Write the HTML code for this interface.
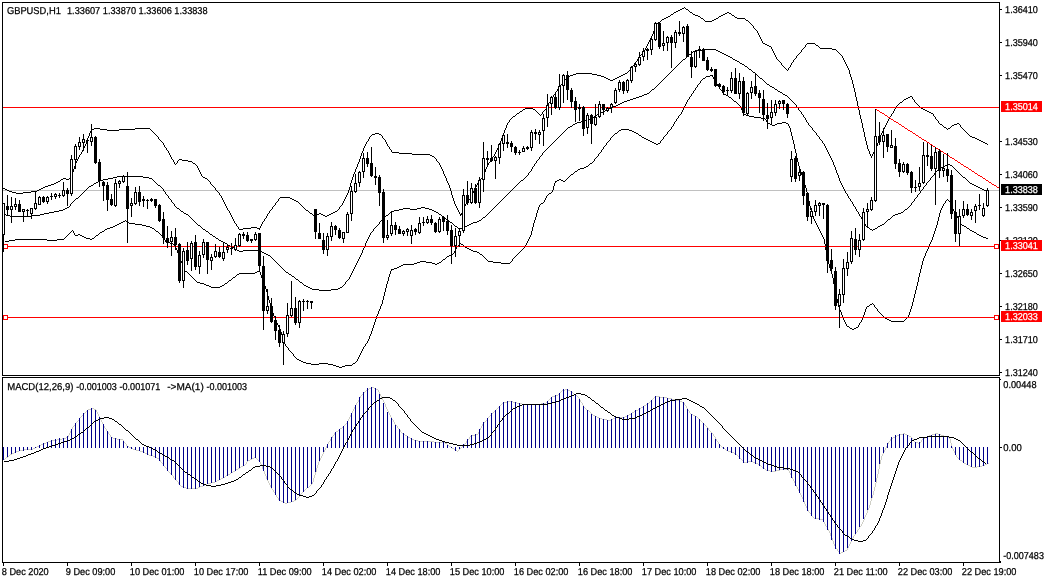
<!DOCTYPE html>
<html><head><meta charset="utf-8"><title>GBPUSD H1</title>
<style>html,body{margin:0;padding:0;background:#fff}body{width:1045px;height:583px;overflow:hidden}</style></head>
<body>
<svg width="1045" height="583" viewBox="0 0 1045 583" style="display:block;font-family:'Liberation Sans',Arial,sans-serif;font-size:10px;text-rendering:geometricPrecision">
<rect width="1045" height="583" fill="#fff"/>
<g shape-rendering="crispEdges">
<rect x="3" y="190" width="996" height="1" fill="#c0c0c0"/>
<path fill="#000" d="M3 188h2v1h-2zM5 189h2v1h-2zM7 190h2v1h-2zM9 191h3v1h-3zM12 192h4v1h-4zM16 193h7v1h-7zM23 192h8v1h-8zM31 191h6v1h-6zM37 190h2v1h-2zM39 189h2v1h-2zM41 188h2v1h-2zM43 187h2v1h-2zM45 186h3v1h-3zM48 185h3v1h-3zM51 184h3v1h-3zM54 183h2v1h-2zM56 182h2v1h-2zM58 181h2v1h-2zM60 180h1v1h-1zM61 179h2v1h-2zM63 178h3v1h-3zM66 179h3v1h-3zM69 178h1v1h-1zM70 177h1v1h-1zM71 175h1v2h-1zM72 172h1v3h-1zM73 169h1v3h-1zM74 166h1v3h-1zM75 163h1v3h-1zM76 161h1v2h-1zM77 159h1v2h-1zM78 157h1v2h-1zM79 155h1v2h-1zM80 154h1v1h-1zM81 152h1v2h-1zM82 150h1v2h-1zM83 148h1v2h-1zM84 146h1v2h-1zM85 144h1v2h-1zM86 141h1v3h-1zM87 138h1v3h-1zM88 136h1v2h-1zM89 133h1v3h-1zM90 131h1v2h-1zM91 129h3v1h-3zM91 130h1v1h-1zM94 128h6v1h-6zM100 129h7v1h-7zM107 130h12v1h-12zM119 129h16v1h-16zM135 128h15v1h-15zM150 129h1v1h-1zM151 130h1v1h-1zM152 131h1v1h-1zM153 132h1v1h-1zM154 133h1v1h-1zM155 134h1v1h-1zM156 135h1v1h-1zM157 136h1v1h-1zM158 137h1v2h-1zM159 139h1v1h-1zM160 140h1v1h-1zM161 141h1v1h-1zM162 142h1v1h-1zM163 143h1v2h-1zM164 145h1v2h-1zM165 147h1v1h-1zM166 148h1v2h-1zM167 150h1v1h-1zM168 151h1v2h-1zM169 153h1v2h-1zM170 155h1v2h-1zM171 157h1v2h-1zM172 159h1v1h-1zM173 160h1v2h-1zM174 162h1v2h-1zM175 164h1v1h-1zM176 163h1v1h-1zM177 161h1v2h-1zM178 160h1v1h-1zM179 159h3v1h-3zM182 160h6v1h-6zM188 161h4v1h-4zM192 162h1v1h-1zM193 163h2v1h-2zM195 164h1v1h-1zM196 165h1v1h-1zM197 166h1v2h-1zM198 168h1v2h-1zM199 170h1v2h-1zM200 172h1v2h-1zM201 174h1v2h-1zM202 176h1v1h-1zM203 177h2v1h-2zM205 178h2v1h-2zM207 179h1v1h-1zM208 180h1v1h-1zM209 181h1v1h-1zM210 182h1v2h-1zM211 184h1v1h-1zM212 185h1v1h-1zM213 186h1v1h-1zM214 187h1v1h-1zM215 188h1v2h-1zM216 190h1v1h-1zM217 191h1v1h-1zM218 192h1v1h-1zM219 193h1v2h-1zM220 195h1v1h-1zM221 196h1v2h-1zM222 198h1v2h-1zM223 200h1v2h-1zM224 202h1v2h-1zM225 204h1v2h-1zM226 206h1v2h-1zM227 208h1v2h-1zM228 210h1v1h-1zM229 211h1v2h-1zM230 213h1v2h-1zM231 215h1v2h-1zM232 217h1v2h-1zM233 219h1v2h-1zM234 221h1v2h-1zM235 223h1v1h-1zM236 224h1v2h-1zM237 226h1v1h-1zM238 227h1v2h-1zM239 229h4v1h-4zM243 228h8v1h-8zM251 227h6v1h-6zM257 228h3v1h-3zM259 229h1v1h-1zM260 226h1v2h-1zM261 224h1v2h-1zM262 222h1v2h-1zM263 221h1v1h-1zM264 219h1v2h-1zM265 218h1v1h-1zM266 216h1v2h-1zM267 214h1v2h-1zM268 213h1v1h-1zM269 211h1v2h-1zM270 210h1v1h-1zM271 209h1v1h-1zM272 207h1v2h-1zM273 206h1v1h-1zM274 205h1v1h-1zM275 203h1v2h-1zM276 202h1v1h-1zM277 201h1v1h-1zM278 199h1v2h-1zM279 198h1v1h-1zM280 197h10v1h-10zM290 198h2v1h-2zM292 199h2v1h-2zM294 200h2v1h-2zM296 201h2v1h-2zM298 202h1v1h-1zM299 203h1v1h-1zM300 204h1v1h-1zM301 205h1v1h-1zM302 206h1v1h-1zM303 207h1v1h-1zM304 208h1v1h-1zM305 209h1v1h-1zM306 210h2v1h-2zM308 211h1v1h-1zM309 212h1v1h-1zM310 213h2v1h-2zM312 214h1v1h-1zM313 215h2v1h-2zM315 214h4v1h-4zM319 213h2v1h-2zM321 214h2v1h-2zM323 215h2v1h-2zM325 216h2v1h-2zM327 215h2v1h-2zM329 214h2v1h-2zM331 213h2v1h-2zM333 212h2v1h-2zM335 211h2v1h-2zM337 210h1v1h-1zM338 209h1v1h-1zM339 207h1v2h-1zM340 206h1v1h-1zM341 205h1v1h-1zM342 203h1v2h-1zM343 201h1v2h-1zM344 199h1v2h-1zM345 197h1v2h-1zM346 195h1v2h-1zM347 193h1v2h-1zM348 190h1v3h-1zM349 187h1v3h-1zM350 183h1v4h-1zM351 180h1v3h-1zM352 177h1v3h-1zM353 174h1v3h-1zM354 172h1v2h-1zM355 169h1v3h-1zM356 167h1v2h-1zM357 164h1v3h-1zM358 162h1v2h-1zM359 159h1v3h-1zM360 156h1v3h-1zM361 153h1v3h-1zM362 151h1v2h-1zM363 148h1v3h-1zM364 146h1v2h-1zM365 144h1v2h-1zM366 142h1v2h-1zM367 141h1v1h-1zM368 139h1v2h-1zM369 137h1v2h-1zM370 136h1v1h-1zM371 135h1v1h-1zM372 134h3v1h-3zM375 133h4v1h-4zM379 134h2v1h-2zM381 135h1v1h-1zM382 136h1v2h-1zM383 138h1v1h-1zM384 139h1v1h-1zM385 140h1v2h-1zM386 142h1v2h-1zM387 144h1v2h-1zM388 146h1v1h-1zM389 147h1v2h-1zM390 149h1v1h-1zM391 150h1v2h-1zM392 152h7v1h-7zM399 153h13v1h-13zM412 154h18v1h-18zM430 155h2v1h-2zM432 156h2v1h-2zM434 157h1v1h-1zM435 158h1v1h-1zM436 159h1v2h-1zM437 161h1v1h-1zM438 162h1v1h-1zM439 163h1v2h-1zM440 165h1v2h-1zM441 167h1v2h-1zM442 169h1v2h-1zM443 171h1v3h-1zM444 174h1v2h-1zM445 176h1v2h-1zM446 178h1v3h-1zM447 181h1v2h-1zM448 183h1v2h-1zM449 185h1v3h-1zM450 188h1v3h-1zM451 191h1v4h-1zM452 195h1v3h-1zM453 198h1v3h-1zM454 201h1v3h-1zM455 204h1v2h-1zM456 206h1v2h-1zM457 208h1v2h-1zM458 210h1v2h-1zM459 212h1v2h-1zM460 214h2v1h-2zM460 215h1v1h-1zM461 213h1v1h-1zM462 211h1v2h-1zM463 208h1v3h-1zM464 206h1v2h-1zM465 204h1v2h-1zM466 203h1v1h-1zM467 201h1v2h-1zM468 200h1v1h-1zM469 199h1v1h-1zM470 197h1v2h-1zM471 195h1v2h-1zM472 193h1v2h-1zM473 191h1v2h-1zM474 189h1v2h-1zM475 187h1v2h-1zM476 185h1v2h-1zM477 183h1v2h-1zM478 182h1v1h-1zM479 180h1v2h-1zM480 179h1v1h-1zM481 178h1v1h-1zM482 176h1v2h-1zM483 174h1v2h-1zM484 172h1v2h-1zM485 169h1v3h-1zM486 167h1v2h-1zM487 165h1v2h-1zM488 163h1v2h-1zM489 162h1v1h-1zM490 160h1v2h-1zM491 159h1v1h-1zM492 157h1v2h-1zM493 156h1v1h-1zM494 154h1v2h-1zM495 152h1v2h-1zM496 150h1v2h-1zM497 148h1v2h-1zM498 146h1v2h-1zM499 144h1v2h-1zM500 141h1v3h-1zM501 138h1v3h-1zM502 136h1v2h-1zM503 133h1v3h-1zM504 130h1v3h-1zM505 128h1v2h-1zM506 125h1v3h-1zM507 123h1v2h-1zM508 122h1v1h-1zM509 120h1v2h-1zM510 119h1v1h-1zM511 118h1v1h-1zM512 117h1v1h-1zM513 116h2v1h-2zM515 115h1v1h-1zM516 114h1v1h-1zM517 113h2v1h-2zM519 112h1v1h-1zM520 111h2v1h-2zM522 110h1v1h-1zM523 109h2v1h-2zM525 108h8v1h-8zM533 109h2v1h-2zM535 110h1v1h-1zM536 111h1v1h-1zM537 112h1v1h-1zM538 113h1v1h-1zM539 114h1v1h-1zM540 115h1v1h-1zM541 114h1v1h-1zM542 112h1v2h-1zM543 111h1v1h-1zM544 110h1v1h-1zM545 109h1v1h-1zM546 107h1v2h-1zM547 105h1v2h-1zM548 103h1v2h-1zM549 102h1v1h-1zM550 100h1v2h-1zM551 98h1v2h-1zM552 97h1v1h-1zM553 95h1v2h-1zM554 94h1v1h-1zM555 92h1v2h-1zM556 91h1v1h-1zM557 89h1v2h-1zM558 88h1v1h-1zM559 86h1v2h-1zM560 85h1v1h-1zM561 84h1v1h-1zM562 83h1v1h-1zM563 82h1v1h-1zM564 80h1v2h-1zM565 79h1v1h-1zM566 78h1v1h-1zM567 77h1v1h-1zM568 76h2v1h-2zM570 75h3v1h-3zM573 74h3v1h-3zM576 73h16v1h-16zM592 74h5v1h-5zM597 75h4v1h-4zM601 76h3v1h-3zM604 77h2v1h-2zM606 78h2v1h-2zM608 79h2v1h-2zM610 80h3v1h-3zM613 79h2v1h-2zM615 78h2v1h-2zM617 77h2v1h-2zM619 76h2v1h-2zM621 75h2v1h-2zM623 74h2v1h-2zM625 73h2v1h-2zM627 72h1v1h-1zM628 71h1v1h-1zM629 70h1v1h-1zM630 69h1v1h-1zM631 68h1v1h-1zM632 66h1v2h-1zM633 65h1v1h-1zM634 63h1v2h-1zM635 62h1v1h-1zM636 61h1v1h-1zM637 59h1v2h-1zM638 58h1v1h-1zM639 56h1v2h-1zM640 55h1v1h-1zM641 54h1v1h-1zM642 52h1v2h-1zM643 51h1v1h-1zM644 50h1v1h-1zM645 48h1v2h-1zM646 46h1v2h-1zM647 44h1v2h-1zM648 42h1v2h-1zM649 40h1v2h-1zM650 38h1v2h-1zM651 36h1v2h-1zM652 34h1v2h-1zM653 31h1v3h-1zM654 28h1v3h-1zM655 26h1v2h-1zM656 24h1v2h-1zM657 23h1v1h-1zM658 22h2v1h-2zM660 21h1v1h-1zM661 20h1v1h-1zM662 19h2v1h-2zM664 18h2v1h-2zM666 17h2v1h-2zM668 16h2v1h-2zM670 15h1v1h-1zM671 14h2v1h-2zM673 13h1v1h-1zM674 12h2v1h-2zM676 11h2v1h-2zM678 10h2v1h-2zM680 9h2v1h-2zM682 8h2v1h-2zM684 7h1v1h-1zM685 8h1v1h-1zM686 9h2v1h-2zM688 10h1v1h-1zM689 11h1v1h-1zM690 12h2v1h-2zM692 13h1v1h-1zM693 14h2v1h-2zM695 15h3v1h-3zM698 16h2v1h-2zM700 17h1v1h-1zM701 18h2v1h-2zM703 19h1v1h-1zM704 20h1v1h-1zM705 21h7v1h-7zM712 20h2v1h-2zM714 19h2v1h-2zM716 18h2v1h-2zM718 17h1v1h-1zM719 16h2v1h-2zM721 15h2v1h-2zM723 14h2v1h-2zM725 13h2v1h-2zM727 12h2v1h-2zM729 13h2v1h-2zM731 14h1v1h-1zM732 15h2v1h-2zM734 16h1v1h-1zM735 17h2v1h-2zM737 18h8v1h-8zM745 19h1v1h-1zM746 20h2v1h-2zM748 21h1v1h-1zM749 22h1v1h-1zM750 23h1v1h-1zM751 24h1v1h-1zM752 25h1v1h-1zM753 26h1v2h-1zM754 28h1v1h-1zM755 29h1v1h-1zM756 30h1v1h-1zM757 31h1v2h-1zM758 33h1v2h-1zM759 35h1v2h-1zM760 37h1v2h-1zM761 39h1v2h-1zM762 41h1v2h-1zM763 43h2v1h-2zM765 44h2v1h-2zM767 45h2v1h-2zM769 46h2v1h-2zM771 47h1v2h-1zM772 49h1v2h-1zM773 51h1v2h-1zM774 53h1v2h-1zM775 55h1v2h-1zM776 57h1v2h-1zM777 59h1v1h-1zM778 60h1v1h-1zM779 61h1v1h-1zM780 62h1v1h-1zM781 63h1v2h-1zM782 65h1v1h-1zM783 66h1v1h-1zM784 67h1v1h-1zM785 68h1v1h-1zM786 69h1v1h-1zM787 70h1v1h-1zM788 68h1v2h-1zM789 67h1v1h-1zM790 65h1v2h-1zM791 63h1v2h-1zM792 62h1v1h-1zM793 60h1v2h-1zM794 59h1v1h-1zM795 58h1v1h-1zM796 56h1v2h-1zM797 55h1v1h-1zM798 54h1v1h-1zM799 53h1v1h-1zM800 52h1v1h-1zM801 50h1v2h-1zM802 49h1v1h-1zM803 48h1v1h-1zM804 47h1v1h-1zM805 45h1v2h-1zM806 44h1v1h-1zM807 43h8v1h-8zM815 44h1v1h-1zM816 45h2v1h-2zM818 46h1v1h-1zM819 47h1v1h-1zM820 48h12v1h-12zM832 49h4v1h-4zM836 50h1v1h-1zM837 51h1v1h-1zM838 52h1v1h-1zM839 53h1v1h-1zM840 54h1v1h-1zM841 55h1v1h-1zM842 56h1v2h-1zM843 58h1v2h-1zM844 60h1v2h-1zM845 62h1v2h-1zM846 64h1v2h-1zM847 66h1v2h-1zM848 68h1v2h-1zM849 70h1v4h-1zM850 74h1v3h-1zM851 77h1v3h-1zM852 80h1v4h-1zM853 84h1v4h-1zM854 88h1v4h-1zM855 92h1v5h-1zM856 97h1v4h-1zM857 101h1v5h-1zM858 106h1v4h-1zM859 110h1v5h-1zM860 115h1v4h-1zM861 119h1v4h-1zM862 123h1v5h-1zM863 128h1v4h-1zM864 132h1v5h-1zM865 137h1v4h-1zM866 141h1v4h-1zM867 145h1v4h-1zM868 149h1v2h-1zM869 151h1v3h-1zM870 154h1v2h-1zM871 156h1v2h-1zM872 154h1v2h-1zM873 152h1v2h-1zM874 150h1v2h-1zM875 148h1v2h-1zM876 146h1v2h-1zM877 143h1v3h-1zM878 141h1v2h-1zM879 138h1v3h-1zM880 135h1v3h-1zM881 133h1v2h-1zM882 131h1v2h-1zM883 129h1v2h-1zM884 127h1v2h-1zM885 125h1v2h-1zM886 123h1v2h-1zM887 121h1v2h-1zM888 119h1v2h-1zM889 117h1v2h-1zM890 116h1v1h-1zM891 114h1v2h-1zM892 113h1v1h-1zM893 111h1v2h-1zM894 109h1v2h-1zM895 108h1v1h-1zM896 106h1v2h-1zM897 105h1v1h-1zM898 104h1v1h-1zM899 103h1v1h-1zM900 102h2v1h-2zM902 101h1v1h-1zM903 100h1v1h-1zM904 99h2v1h-2zM906 98h2v1h-2zM908 97h2v1h-2zM910 96h2v1h-2zM912 97h1v2h-1zM913 99h1v1h-1zM914 100h1v2h-1zM915 102h1v1h-1zM916 103h1v1h-1zM917 104h1v1h-1zM918 105h1v1h-1zM919 106h1v1h-1zM920 107h1v1h-1zM921 108h2v1h-2zM923 109h2v1h-2zM925 110h2v1h-2zM927 111h2v1h-2zM929 112h2v1h-2zM931 113h2v1h-2zM933 114h1v2h-1zM934 116h1v1h-1zM935 117h1v2h-1zM936 119h1v1h-1zM937 120h1v1h-1zM938 121h1v2h-1zM939 123h1v1h-1zM940 124h2v1h-2zM942 125h1v1h-1zM943 126h1v1h-1zM944 127h2v1h-2zM946 128h1v1h-1zM947 129h1v1h-1zM948 128h2v1h-2zM950 127h1v1h-1zM951 126h1v1h-1zM952 125h2v1h-2zM954 124h3v1h-3zM957 123h2v1h-2zM959 124h1v1h-1zM960 125h1v2h-1zM961 127h1v1h-1zM962 128h1v1h-1zM963 129h1v1h-1zM964 130h1v1h-1zM965 131h1v1h-1zM966 132h1v1h-1zM967 133h1v1h-1zM968 134h1v1h-1zM969 135h1v1h-1zM970 136h2v1h-2zM972 137h3v1h-3zM975 138h2v1h-2zM977 139h2v1h-2zM979 140h2v1h-2zM981 141h2v1h-2zM983 142h2v1h-2zM985 143h2v1h-2zM987 144h1v1h-1z"/>
<path fill="#000" d="M3 214h3v1h-3zM6 215h4v1h-4zM10 216h21v1h-21zM31 215h9v1h-9zM40 214h4v1h-4zM44 213h5v1h-5zM49 212h5v1h-5zM54 211h5v1h-5zM59 210h4v1h-4zM63 209h2v1h-2zM65 208h2v1h-2zM67 207h2v1h-2zM69 206h1v1h-1zM70 204h1v2h-1zM71 203h1v1h-1zM72 202h1v1h-1zM73 201h1v1h-1zM74 200h1v1h-1zM75 199h1v1h-1zM76 198h2v1h-2zM78 197h1v1h-1zM79 196h1v1h-1zM80 195h1v1h-1zM81 194h1v1h-1zM82 193h1v1h-1zM83 192h1v1h-1zM84 191h1v1h-1zM85 190h1v1h-1zM86 189h1v1h-1zM87 188h1v1h-1zM88 187h1v1h-1zM89 186h2v1h-2zM91 185h2v1h-2zM93 184h1v1h-1zM94 183h2v1h-2zM96 182h2v1h-2zM98 181h2v1h-2zM100 180h3v1h-3zM103 179h5v1h-5zM108 178h5v1h-5zM113 177h4v1h-4zM117 176h26v1h-26zM143 177h6v1h-6zM149 178h3v1h-3zM152 179h1v1h-1zM153 180h1v1h-1zM154 181h1v1h-1zM155 182h1v1h-1zM156 183h1v1h-1zM157 184h1v1h-1zM158 185h2v1h-2zM160 186h1v1h-1zM161 187h1v1h-1zM162 188h1v1h-1zM163 189h1v2h-1zM164 191h1v1h-1zM165 192h1v2h-1zM166 194h1v1h-1zM167 195h1v1h-1zM168 196h1v2h-1zM169 198h1v1h-1zM170 199h1v1h-1zM171 200h1v2h-1zM172 202h1v1h-1zM173 203h1v1h-1zM174 204h1v2h-1zM175 206h1v1h-1zM176 207h1v1h-1zM177 208h2v1h-2zM179 209h1v1h-1zM180 210h1v1h-1zM181 211h2v1h-2zM183 212h1v1h-1zM184 213h2v1h-2zM186 214h2v1h-2zM188 215h1v1h-1zM189 216h1v1h-1zM190 217h1v1h-1zM191 218h1v1h-1zM192 219h1v1h-1zM193 220h1v1h-1zM194 221h1v1h-1zM195 222h1v1h-1zM196 223h1v1h-1zM197 224h1v1h-1zM198 225h2v1h-2zM200 226h1v1h-1zM201 227h1v1h-1zM202 228h1v1h-1zM203 229h2v1h-2zM205 230h1v1h-1zM206 231h2v1h-2zM208 232h1v1h-1zM209 233h1v1h-1zM210 234h2v1h-2zM212 235h1v1h-1zM213 236h2v1h-2zM215 237h1v1h-1zM216 238h2v1h-2zM218 239h1v1h-1zM219 240h2v1h-2zM221 241h2v1h-2zM223 242h2v1h-2zM225 243h2v1h-2zM227 244h1v1h-1zM228 245h2v1h-2zM230 246h2v1h-2zM232 247h2v1h-2zM234 248h1v1h-1zM235 249h2v1h-2zM237 250h2v1h-2zM239 251h4v1h-4zM243 250h16v1h-16zM259 251h3v1h-3zM262 252h2v1h-2zM264 253h2v1h-2zM266 254h2v1h-2zM268 255h2v1h-2zM270 256h1v1h-1zM271 257h1v1h-1zM272 258h1v1h-1zM273 259h1v1h-1zM274 260h1v1h-1zM275 261h1v1h-1zM276 262h1v1h-1zM277 263h1v1h-1zM278 264h1v1h-1zM279 265h1v1h-1zM280 266h1v1h-1zM281 267h1v1h-1zM282 268h1v1h-1zM283 269h1v1h-1zM284 270h1v1h-1zM285 271h1v1h-1zM286 272h2v1h-2zM288 273h1v1h-1zM289 274h2v1h-2zM291 275h1v1h-1zM292 276h2v1h-2zM294 277h1v1h-1zM295 278h1v1h-1zM296 279h2v1h-2zM298 280h1v1h-1zM299 281h1v1h-1zM300 282h2v1h-2zM302 283h1v1h-1zM303 284h1v1h-1zM304 285h2v1h-2zM306 286h2v1h-2zM308 287h2v1h-2zM310 288h2v1h-2zM312 289h7v1h-7zM319 290h12v1h-12zM331 289h7v1h-7zM338 288h2v1h-2zM340 287h2v1h-2zM342 286h1v1h-1zM343 285h1v1h-1zM344 284h1v1h-1zM345 282h1v2h-1zM346 281h1v1h-1zM347 280h1v1h-1zM348 279h1v1h-1zM349 277h1v2h-1zM350 275h1v2h-1zM351 273h1v2h-1zM352 271h1v2h-1zM353 269h1v2h-1zM354 267h1v2h-1zM355 265h1v2h-1zM356 263h1v2h-1zM357 261h1v2h-1zM358 259h1v2h-1zM359 257h1v2h-1zM360 255h1v2h-1zM361 253h1v2h-1zM362 250h1v3h-1zM363 248h1v2h-1zM364 246h1v2h-1zM365 243h1v3h-1zM366 241h1v2h-1zM367 239h1v2h-1zM368 237h1v2h-1zM369 235h1v2h-1zM370 233h1v2h-1zM371 232h1v1h-1zM372 231h1v1h-1zM373 229h1v2h-1zM374 228h1v1h-1zM375 227h1v1h-1zM376 226h1v1h-1zM377 225h1v1h-1zM378 224h1v1h-1zM379 222h1v2h-1zM380 221h1v1h-1zM381 220h1v1h-1zM382 219h1v1h-1zM383 218h1v1h-1zM384 217h1v1h-1zM385 216h1v1h-1zM386 215h2v1h-2zM388 214h1v1h-1zM389 213h1v1h-1zM390 212h1v1h-1zM391 211h3v1h-3zM394 210h5v1h-5zM399 209h4v1h-4zM403 208h7v1h-7zM410 209h7v1h-7zM417 208h4v1h-4zM421 207h4v1h-4zM425 208h4v1h-4zM429 209h3v1h-3zM432 210h2v1h-2zM434 211h2v1h-2zM436 212h2v1h-2zM438 213h1v1h-1zM439 214h2v1h-2zM441 215h1v1h-1zM442 216h1v1h-1zM443 217h2v1h-2zM445 218h1v1h-1zM446 219h2v1h-2zM448 220h1v1h-1zM449 221h1v1h-1zM450 222h2v1h-2zM452 223h1v1h-1zM453 224h1v1h-1zM454 225h1v1h-1zM455 226h2v1h-2zM457 227h1v1h-1zM458 228h4v1h-4zM462 227h3v1h-3zM465 226h2v1h-2zM467 225h2v1h-2zM469 224h2v1h-2zM471 223h2v1h-2zM473 222h4v1h-4zM477 221h2v1h-2zM479 220h2v1h-2zM481 219h1v1h-1zM482 218h1v1h-1zM483 217h2v1h-2zM485 216h1v1h-1zM486 215h1v1h-1zM487 214h1v1h-1zM488 213h1v1h-1zM489 212h1v1h-1zM490 211h1v1h-1zM491 210h1v1h-1zM492 209h1v1h-1zM493 208h1v1h-1zM494 207h1v1h-1zM495 206h1v1h-1zM496 205h1v1h-1zM497 204h1v1h-1zM498 203h1v1h-1zM499 202h1v1h-1zM500 201h1v1h-1zM501 200h1v1h-1zM502 199h1v1h-1zM503 198h1v1h-1zM504 197h1v1h-1zM505 196h1v1h-1zM506 195h1v1h-1zM507 194h1v1h-1zM508 193h1v1h-1zM509 192h1v1h-1zM510 191h1v1h-1zM511 190h1v1h-1zM512 189h1v1h-1zM513 188h1v1h-1zM514 187h1v1h-1zM515 186h1v1h-1zM516 185h1v1h-1zM517 184h1v1h-1zM518 183h1v1h-1zM519 182h1v1h-1zM520 181h1v1h-1zM521 180h2v1h-2zM523 179h1v1h-1zM524 178h1v1h-1zM525 177h1v1h-1zM526 176h1v1h-1zM527 175h1v1h-1zM528 173h1v2h-1zM529 172h1v1h-1zM530 171h1v1h-1zM531 169h1v2h-1zM532 167h1v2h-1zM533 166h1v1h-1zM534 164h1v2h-1zM535 163h1v1h-1zM536 161h1v2h-1zM537 160h1v1h-1zM538 159h1v1h-1zM539 157h1v2h-1zM540 156h1v1h-1zM541 155h1v1h-1zM542 153h1v2h-1zM543 152h1v1h-1zM544 151h1v1h-1zM545 150h1v1h-1zM546 149h1v1h-1zM547 148h1v1h-1zM548 147h1v1h-1zM549 146h1v1h-1zM550 145h1v1h-1zM551 144h1v1h-1zM552 143h1v1h-1zM553 142h1v1h-1zM554 141h1v1h-1zM555 140h1v1h-1zM556 139h1v1h-1zM557 138h1v1h-1zM558 137h1v1h-1zM559 136h1v1h-1zM560 135h1v1h-1zM561 134h1v1h-1zM562 133h1v1h-1zM563 132h1v1h-1zM564 131h1v1h-1zM565 130h1v1h-1zM566 129h1v1h-1zM567 128h1v1h-1zM568 127h2v1h-2zM570 126h2v1h-2zM572 125h1v1h-1zM573 124h2v1h-2zM575 123h2v1h-2zM577 122h4v1h-4zM581 121h3v1h-3zM584 120h4v1h-4zM588 119h2v1h-2zM590 118h2v1h-2zM592 117h2v1h-2zM594 116h2v1h-2zM596 115h1v1h-1zM597 114h2v1h-2zM599 113h2v1h-2zM601 112h2v1h-2zM603 111h2v1h-2zM605 110h2v1h-2zM607 109h2v1h-2zM609 108h2v1h-2zM611 107h2v1h-2zM613 106h3v1h-3zM616 105h2v1h-2zM618 104h2v1h-2zM620 103h2v1h-2zM622 102h2v1h-2zM624 101h3v1h-3zM627 100h3v1h-3zM630 99h3v1h-3zM633 98h3v1h-3zM636 97h3v1h-3zM639 96h3v1h-3zM642 95h2v1h-2zM644 94h3v1h-3zM647 93h2v1h-2zM649 92h1v1h-1zM650 91h1v1h-1zM651 90h1v1h-1zM652 89h2v1h-2zM654 88h1v1h-1zM655 87h1v1h-1zM656 86h1v1h-1zM657 85h1v1h-1zM658 84h1v1h-1zM659 83h1v1h-1zM660 82h1v1h-1zM661 81h1v1h-1zM662 80h1v1h-1zM663 79h1v1h-1zM664 78h1v1h-1zM665 77h1v1h-1zM666 76h1v1h-1zM667 75h1v1h-1zM668 74h1v1h-1zM669 73h1v1h-1zM670 72h1v1h-1zM671 71h1v1h-1zM672 70h1v1h-1zM673 69h1v1h-1zM674 68h1v1h-1zM675 67h1v1h-1zM676 66h1v1h-1zM677 65h1v1h-1zM678 64h1v1h-1zM679 63h1v1h-1zM680 62h1v1h-1zM681 61h1v1h-1zM682 60h1v1h-1zM683 59h2v1h-2zM685 58h1v1h-1zM686 57h1v1h-1zM687 56h1v1h-1zM688 55h1v1h-1zM689 54h2v1h-2zM691 53h1v1h-1zM692 52h1v1h-1zM693 51h3v1h-3zM696 50h6v1h-6zM702 49h14v1h-14zM716 50h2v1h-2zM718 51h2v1h-2zM720 52h2v1h-2zM722 53h2v1h-2zM724 54h2v1h-2zM726 55h2v1h-2zM728 56h2v1h-2zM730 57h2v1h-2zM732 58h1v1h-1zM733 59h2v1h-2zM735 60h2v1h-2zM737 61h2v1h-2zM739 62h1v1h-1zM740 63h2v1h-2zM742 64h2v1h-2zM744 65h1v1h-1zM745 66h2v1h-2zM747 67h1v1h-1zM748 68h1v1h-1zM749 69h2v1h-2zM751 70h1v1h-1zM752 71h1v1h-1zM753 72h2v1h-2zM755 73h1v1h-1zM756 74h1v1h-1zM757 75h1v1h-1zM758 76h1v1h-1zM759 77h1v1h-1zM760 78h2v1h-2zM762 79h1v1h-1zM763 80h1v1h-1zM764 81h1v1h-1zM765 82h1v1h-1zM766 83h1v1h-1zM767 84h2v1h-2zM769 85h1v1h-1zM770 86h2v1h-2zM772 87h2v1h-2zM774 88h1v1h-1zM775 89h2v1h-2zM777 90h1v1h-1zM778 91h2v1h-2zM780 92h2v1h-2zM782 93h1v1h-1zM783 94h2v1h-2zM785 95h2v1h-2zM787 96h1v1h-1zM788 97h1v1h-1zM789 98h1v1h-1zM790 99h1v1h-1zM791 100h1v1h-1zM792 101h1v1h-1zM793 102h1v1h-1zM794 103h1v1h-1zM795 104h1v1h-1zM796 105h1v2h-1zM797 107h1v1h-1zM798 108h1v2h-1zM799 110h1v1h-1zM800 111h1v1h-1zM801 112h1v2h-1zM802 114h1v1h-1zM803 115h1v2h-1zM804 117h1v1h-1zM805 118h1v2h-1zM806 120h1v2h-1zM807 122h1v1h-1zM808 123h1v2h-1zM809 125h1v1h-1zM810 126h1v1h-1zM811 127h1v1h-1zM812 128h1v2h-1zM813 130h1v1h-1zM814 131h1v1h-1zM815 132h1v1h-1zM816 133h1v2h-1zM817 135h1v1h-1zM818 136h1v1h-1zM819 137h1v2h-1zM820 139h1v1h-1zM821 140h1v1h-1zM822 141h1v2h-1zM823 143h1v1h-1zM824 144h1v2h-1zM825 146h1v2h-1zM826 148h1v2h-1zM827 150h1v2h-1zM828 152h1v2h-1zM829 154h1v2h-1zM830 156h1v2h-1zM831 158h1v2h-1zM832 160h1v2h-1zM833 162h1v3h-1zM834 165h1v2h-1zM835 167h1v3h-1zM836 170h1v3h-1zM837 173h1v2h-1zM838 175h1v3h-1zM839 178h1v3h-1zM840 181h1v2h-1zM841 183h1v2h-1zM842 185h1v2h-1zM843 187h1v2h-1zM844 189h1v2h-1zM845 191h1v2h-1zM846 193h1v1h-1zM847 194h1v2h-1zM848 196h1v2h-1zM849 198h1v1h-1zM850 199h1v2h-1zM851 201h1v1h-1zM852 202h1v2h-1zM853 204h1v2h-1zM854 206h1v1h-1zM855 207h1v2h-1zM856 209h1v2h-1zM857 211h1v1h-1zM858 212h1v2h-1zM859 214h1v2h-1zM860 216h1v1h-1zM861 217h1v2h-1zM862 219h1v2h-1zM863 221h1v1h-1zM864 222h1v2h-1zM865 224h1v2h-1zM866 226h1v1h-1zM867 227h2v1h-2zM869 228h1v1h-1zM870 229h2v1h-2zM872 230h1v1h-1zM873 229h2v1h-2zM875 228h2v1h-2zM877 227h1v1h-1zM878 226h2v1h-2zM880 225h2v1h-2zM882 224h2v1h-2zM884 223h1v1h-1zM885 222h1v1h-1zM886 221h1v1h-1zM887 220h1v1h-1zM888 219h2v1h-2zM890 218h1v1h-1zM891 217h1v1h-1zM892 216h1v1h-1zM893 215h2v1h-2zM895 214h3v1h-3zM898 213h3v1h-3zM901 212h2v1h-2zM903 211h1v1h-1zM904 210h1v1h-1zM905 209h2v1h-2zM907 208h1v1h-1zM908 207h1v1h-1zM909 206h1v1h-1zM910 205h1v1h-1zM911 203h1v2h-1zM912 202h1v1h-1zM913 201h1v1h-1zM914 199h1v2h-1zM915 198h1v1h-1zM916 197h1v1h-1zM917 195h1v2h-1zM918 194h1v1h-1zM919 193h1v1h-1zM920 191h1v2h-1zM921 190h1v1h-1zM922 189h1v1h-1zM923 187h1v2h-1zM924 186h1v1h-1zM925 185h1v1h-1zM926 183h1v2h-1zM927 182h1v1h-1zM928 181h1v1h-1zM929 180h1v1h-1zM930 178h1v2h-1zM931 177h1v1h-1zM932 176h1v1h-1zM933 175h1v1h-1zM934 173h1v2h-1zM935 172h1v1h-1zM936 171h1v1h-1zM937 170h2v1h-2zM939 169h1v1h-1zM940 168h1v1h-1zM941 167h2v1h-2zM943 166h2v1h-2zM945 165h2v1h-2zM947 164h3v1h-3zM950 165h2v1h-2zM952 166h1v1h-1zM953 167h1v1h-1zM954 168h1v1h-1zM955 169h1v1h-1zM956 170h1v1h-1zM957 171h1v1h-1zM958 172h1v1h-1zM959 173h1v1h-1zM960 174h1v1h-1zM961 175h1v1h-1zM962 176h1v1h-1zM963 177h2v1h-2zM965 178h1v1h-1zM966 179h1v1h-1zM967 180h1v1h-1zM968 181h1v1h-1zM969 182h1v1h-1zM970 183h2v1h-2zM972 184h2v1h-2zM974 185h2v1h-2zM976 186h2v1h-2zM978 187h2v1h-2zM980 188h2v1h-2zM982 189h2v1h-2zM984 190h2v1h-2zM986 191h2v1h-2z"/>
<path fill="#000" d="M5 241h4v1h-4zM9 240h6v1h-6zM15 239h32v1h-32zM47 240h10v1h-10zM57 239h7v1h-7zM64 238h1v1h-1zM65 237h1v1h-1zM66 236h1v1h-1zM67 235h1v1h-1zM68 234h1v1h-1zM69 233h1v1h-1zM70 232h1v1h-1zM71 231h1v1h-1zM72 230h1v1h-1zM73 231h1v2h-1zM74 233h1v2h-1zM75 235h3v1h-3zM78 234h2v1h-2zM80 235h2v1h-2zM82 236h2v1h-2zM84 237h2v1h-2zM86 238h4v1h-4zM90 239h2v1h-2zM92 238h2v1h-2zM94 237h1v1h-1zM95 236h1v1h-1zM96 235h2v1h-2zM98 234h1v1h-1zM99 233h1v1h-1zM100 232h2v1h-2zM102 231h2v1h-2zM104 230h1v1h-1zM105 229h2v1h-2zM107 228h3v1h-3zM110 227h3v1h-3zM113 226h2v1h-2zM115 225h2v1h-2zM117 224h2v1h-2zM119 223h2v1h-2zM121 222h2v1h-2zM123 221h2v1h-2zM125 220h1v1h-1zM126 221h2v1h-2zM128 222h1v1h-1zM129 223h6v1h-6zM135 224h7v1h-7zM142 225h4v1h-4zM146 226h4v1h-4zM150 227h2v1h-2zM152 228h2v1h-2zM154 229h1v1h-1zM155 230h1v1h-1zM156 231h2v1h-2zM158 232h1v1h-1zM159 233h1v1h-1zM160 234h1v1h-1zM161 235h1v1h-1zM162 236h1v1h-1zM163 237h1v1h-1zM164 238h1v2h-1zM165 240h1v2h-1zM166 242h4v1h-4zM170 243h3v1h-3zM173 244h1v1h-1zM174 245h1v2h-1zM175 247h1v1h-1zM176 248h1v2h-1zM177 250h1v3h-1zM178 253h1v3h-1zM179 256h1v3h-1zM180 259h1v2h-1zM181 261h1v2h-1zM182 263h1v3h-1zM183 266h1v3h-1zM184 269h1v2h-1zM185 271h2v1h-2zM187 272h1v1h-1zM188 273h1v1h-1zM189 274h1v1h-1zM190 275h1v1h-1zM191 276h1v1h-1zM192 277h1v1h-1zM193 278h1v1h-1zM194 279h1v1h-1zM195 280h1v1h-1zM196 281h1v1h-1zM197 282h3v1h-3zM200 283h4v1h-4zM204 284h2v1h-2zM206 285h3v1h-3zM209 286h2v1h-2zM211 287h9v1h-9zM220 286h2v1h-2zM222 285h2v1h-2zM224 284h1v1h-1zM225 283h2v1h-2zM227 282h1v1h-1zM228 281h1v1h-1zM229 280h2v1h-2zM231 279h1v1h-1zM232 278h1v1h-1zM233 277h2v1h-2zM235 276h1v1h-1zM236 275h1v1h-1zM237 274h2v1h-2zM239 273h16v1h-16zM255 272h2v1h-2zM257 271h3v1h-3zM259 270h1v1h-1zM260 272h1v3h-1zM261 275h1v3h-1zM262 278h1v3h-1zM263 281h1v3h-1zM264 284h1v2h-1zM265 286h1v3h-1zM266 289h1v3h-1zM267 292h1v4h-1zM268 296h1v4h-1zM269 300h1v3h-1zM270 303h1v3h-1zM271 306h1v4h-1zM272 310h1v3h-1zM273 313h1v3h-1zM274 316h1v2h-1zM275 318h1v2h-1zM276 320h1v3h-1zM277 323h1v2h-1zM278 325h1v2h-1zM279 327h1v2h-1zM280 329h1v3h-1zM281 332h1v3h-1zM282 335h1v4h-1zM283 339h1v3h-1zM284 342h1v2h-1zM285 344h1v2h-1zM286 346h1v1h-1zM287 347h1v1h-1zM288 348h1v2h-1zM289 350h1v1h-1zM290 351h1v1h-1zM291 352h1v1h-1zM292 353h1v1h-1zM293 354h1v2h-1zM294 356h1v1h-1zM295 357h1v1h-1zM296 358h1v1h-1zM297 359h2v1h-2zM299 360h2v1h-2zM301 361h2v1h-2zM303 362h3v1h-3zM306 363h5v1h-5zM311 364h8v1h-8zM319 363h9v1h-9zM328 364h5v1h-5zM333 365h3v1h-3zM336 366h3v1h-3zM339 367h3v1h-3zM342 366h3v1h-3zM345 365h7v1h-7zM352 364h1v1h-1zM353 363h2v1h-2zM355 362h1v1h-1zM356 361h1v1h-1zM357 359h1v2h-1zM358 357h1v2h-1zM359 355h1v2h-1zM360 353h1v2h-1zM361 351h1v2h-1zM362 349h1v2h-1zM363 347h1v2h-1zM364 346h1v1h-1zM365 344h1v2h-1zM366 343h1v1h-1zM367 341h1v2h-1zM368 339h1v2h-1zM369 336h1v3h-1zM370 334h1v2h-1zM371 331h1v3h-1zM372 328h1v3h-1zM373 325h1v3h-1zM374 322h1v3h-1zM375 319h1v3h-1zM376 316h1v3h-1zM377 314h1v2h-1zM378 311h1v3h-1zM379 309h1v2h-1zM380 306h1v3h-1zM381 304h1v2h-1zM382 300h1v4h-1zM383 296h1v4h-1zM384 292h1v4h-1zM385 288h1v4h-1zM386 284h1v4h-1zM387 281h1v3h-1zM388 277h1v4h-1zM389 274h1v3h-1zM390 271h1v3h-1zM391 269h3v1h-3zM391 270h1v1h-1zM394 268h3v1h-3zM397 267h2v1h-2zM399 266h2v1h-2zM401 265h2v1h-2zM403 264h11v1h-11zM414 263h3v1h-3zM417 262h3v1h-3zM420 261h6v1h-6zM426 262h6v1h-6zM432 263h3v1h-3zM435 264h2v1h-2zM437 263h2v1h-2zM439 262h2v1h-2zM441 261h1v1h-1zM442 260h1v1h-1zM443 259h2v1h-2zM445 258h1v1h-1zM446 257h1v1h-1zM447 256h2v1h-2zM449 255h2v1h-2zM451 254h2v1h-2zM453 253h1v1h-1zM454 251h1v2h-1zM455 249h1v2h-1zM456 247h1v2h-1zM457 246h1v1h-1zM458 245h1v1h-1zM459 244h1v1h-1zM460 243h1v1h-1zM461 244h2v1h-2zM463 245h1v1h-1zM464 246h1v1h-1zM465 247h2v1h-2zM467 248h2v1h-2zM469 249h2v1h-2zM471 250h2v1h-2zM473 251h4v1h-4zM477 252h2v1h-2zM479 253h1v1h-1zM480 254h2v1h-2zM482 255h1v1h-1zM483 256h1v1h-1zM484 257h1v1h-1zM485 258h1v1h-1zM486 259h1v1h-1zM487 260h1v1h-1zM488 261h5v1h-5zM493 262h8v1h-8zM501 263h9v1h-9zM510 262h1v1h-1zM511 261h1v1h-1zM512 259h1v2h-1zM513 258h1v1h-1zM514 257h1v1h-1zM515 256h1v1h-1zM516 255h1v1h-1zM517 254h1v1h-1zM518 253h1v1h-1zM519 252h1v1h-1zM520 251h1v1h-1zM521 250h1v1h-1zM522 249h1v1h-1zM523 248h1v1h-1zM524 247h1v1h-1zM525 245h1v2h-1zM526 243h1v2h-1zM527 241h1v2h-1zM528 239h1v2h-1zM529 237h1v2h-1zM530 235h1v2h-1zM531 231h1v4h-1zM532 227h1v4h-1zM533 223h1v4h-1zM534 220h1v3h-1zM535 217h1v3h-1zM536 213h1v4h-1zM537 210h1v3h-1zM538 207h1v3h-1zM539 205h1v2h-1zM540 204h1v1h-1zM541 203h2v1h-2zM543 202h1v1h-1zM544 200h1v2h-1zM545 198h1v2h-1zM546 196h1v2h-1zM547 195h1v1h-1zM548 194h1v1h-1zM549 193h2v1h-2zM551 192h1v1h-1zM552 190h1v2h-1zM553 186h1v4h-1zM554 183h1v3h-1zM555 181h2v1h-2zM555 182h1v1h-1zM557 180h2v1h-2zM559 179h2v1h-2zM561 180h2v1h-2zM563 181h2v1h-2zM565 180h1v1h-1zM566 179h1v1h-1zM567 178h1v1h-1zM568 177h1v1h-1zM569 176h1v1h-1zM570 175h1v1h-1zM571 174h2v1h-2zM573 173h1v1h-1zM574 172h1v1h-1zM575 171h2v1h-2zM577 170h1v1h-1zM578 169h2v1h-2zM580 168h4v1h-4zM584 167h2v1h-2zM586 166h2v1h-2zM588 165h1v1h-1zM589 164h1v1h-1zM590 163h2v1h-2zM592 162h1v1h-1zM593 161h1v1h-1zM594 159h1v2h-1zM595 158h1v1h-1zM596 157h1v1h-1zM597 156h1v1h-1zM598 154h1v2h-1zM599 153h1v1h-1zM600 152h1v1h-1zM601 150h1v2h-1zM602 149h1v1h-1zM603 147h1v2h-1zM604 146h1v1h-1zM605 145h1v1h-1zM606 143h1v2h-1zM607 142h1v1h-1zM608 141h1v1h-1zM609 140h1v1h-1zM610 138h1v2h-1zM611 137h1v1h-1zM612 136h1v1h-1zM613 135h1v1h-1zM614 134h1v1h-1zM615 133h2v1h-2zM617 132h1v1h-1zM618 131h1v1h-1zM619 130h2v1h-2zM621 129h8v1h-8zM629 130h3v1h-3zM632 131h2v1h-2zM634 132h2v1h-2zM636 133h2v1h-2zM638 134h1v1h-1zM639 135h2v1h-2zM641 136h1v1h-1zM642 137h2v1h-2zM644 138h2v1h-2zM646 139h2v1h-2zM648 140h2v1h-2zM650 141h2v1h-2zM652 142h2v1h-2zM654 143h2v1h-2zM656 144h2v1h-2zM658 143h2v1h-2zM660 141h1v2h-1zM661 140h1v1h-1zM662 139h1v1h-1zM663 137h1v2h-1zM664 136h1v1h-1zM665 135h1v1h-1zM666 134h1v1h-1zM667 132h1v2h-1zM668 131h1v1h-1zM669 130h1v1h-1zM670 129h1v1h-1zM671 127h1v2h-1zM672 126h1v1h-1zM673 124h1v2h-1zM674 122h1v2h-1zM675 121h1v1h-1zM676 119h1v2h-1zM677 118h1v1h-1zM678 116h1v2h-1zM679 115h1v1h-1zM680 114h1v1h-1zM681 112h1v2h-1zM682 110h1v2h-1zM683 108h1v2h-1zM684 106h1v2h-1zM685 104h1v2h-1zM686 102h1v2h-1zM687 100h1v2h-1zM688 99h1v1h-1zM689 97h1v2h-1zM690 96h1v1h-1zM691 94h1v2h-1zM692 93h1v1h-1zM693 91h1v2h-1zM694 90h1v1h-1zM695 88h1v2h-1zM696 87h1v1h-1zM697 85h1v2h-1zM698 84h1v1h-1zM699 83h1v1h-1zM700 81h1v2h-1zM701 80h1v1h-1zM702 79h1v1h-1zM703 78h2v1h-2zM705 77h1v1h-1zM706 76h4v1h-4zM710 75h3v1h-3zM712 76h1v1h-1zM713 77h1v2h-1zM714 79h1v2h-1zM715 81h1v2h-1zM716 83h1v1h-1zM717 84h1v2h-1zM718 86h1v1h-1zM719 87h1v2h-1zM720 89h1v1h-1zM721 90h1v1h-1zM722 91h1v2h-1zM723 93h1v1h-1zM724 94h2v1h-2zM726 95h2v1h-2zM728 96h1v1h-1zM729 97h2v1h-2zM731 98h1v1h-1zM732 99h1v1h-1zM733 100h1v1h-1zM734 101h2v1h-2zM736 102h1v1h-1zM737 103h1v1h-1zM738 104h1v1h-1zM739 105h1v1h-1zM740 106h1v2h-1zM741 108h1v2h-1zM742 110h1v2h-1zM743 112h1v2h-1zM744 114h2v1h-2zM746 115h3v1h-3zM749 116h5v1h-5zM754 117h7v1h-7zM761 118h4v1h-4zM765 119h1v1h-1zM766 120h1v2h-1zM767 122h1v1h-1zM768 123h2v1h-2zM770 124h2v1h-2zM772 125h3v1h-3zM775 124h2v1h-2zM777 123h5v1h-5zM782 122h4v1h-4zM786 123h2v1h-2zM788 124h1v2h-1zM789 126h1v2h-1zM790 128h1v4h-1zM791 132h1v4h-1zM792 136h1v4h-1zM793 140h1v4h-1zM794 144h1v5h-1zM795 149h1v4h-1zM796 153h1v5h-1zM797 158h1v4h-1zM798 162h1v4h-1zM799 166h1v3h-1zM800 169h1v3h-1zM801 172h1v3h-1zM802 175h1v3h-1zM803 178h1v3h-1zM804 181h1v4h-1zM805 185h1v3h-1zM806 188h1v4h-1zM807 192h1v4h-1zM808 196h1v5h-1zM809 201h1v5h-1zM810 206h1v4h-1zM811 210h1v3h-1zM812 213h1v3h-1zM813 216h1v3h-1zM814 219h1v2h-1zM815 221h1v2h-1zM816 223h1v2h-1zM817 225h1v2h-1zM818 227h1v2h-1zM819 229h1v2h-1zM820 231h1v2h-1zM821 233h1v2h-1zM822 235h1v2h-1zM823 237h1v2h-1zM824 239h1v5h-1zM825 244h1v6h-1zM826 250h1v6h-1zM827 256h1v5h-1zM828 261h1v3h-1zM829 264h1v4h-1zM830 268h1v3h-1zM831 271h1v3h-1zM832 274h1v4h-1zM833 278h1v6h-1zM834 284h1v6h-1zM835 290h1v5h-1zM836 295h1v4h-1zM837 299h1v4h-1zM838 303h1v4h-1zM839 307h1v3h-1zM840 310h1v2h-1zM841 312h1v3h-1zM842 315h1v2h-1zM843 317h1v3h-1zM844 320h1v2h-1zM845 322h1v2h-1zM846 324h1v2h-1zM847 326h2v1h-2zM849 327h1v1h-1zM850 328h2v1h-2zM852 329h2v1h-2zM854 328h2v1h-2zM856 327h2v1h-2zM858 325h1v2h-1zM859 323h1v2h-1zM860 322h1v1h-1zM861 320h1v2h-1zM862 318h1v2h-1zM863 315h1v3h-1zM864 312h1v3h-1zM865 309h1v3h-1zM866 307h1v2h-1zM867 306h2v1h-2zM869 305h1v1h-1zM870 304h2v1h-2zM872 303h1v1h-1zM873 304h1v1h-1zM874 305h1v2h-1zM875 307h1v1h-1zM876 308h1v1h-1zM877 309h1v2h-1zM878 311h1v1h-1zM879 312h1v1h-1zM880 313h1v1h-1zM881 314h1v1h-1zM882 315h1v1h-1zM883 316h1v1h-1zM884 317h1v1h-1zM885 318h2v1h-2zM887 319h2v1h-2zM889 320h2v1h-2zM891 321h13v1h-13zM904 320h1v1h-1zM905 319h1v1h-1zM906 318h1v1h-1zM907 317h1v1h-1zM908 315h1v2h-1zM909 312h1v3h-1zM910 309h1v3h-1zM911 306h1v3h-1zM912 302h1v4h-1zM913 298h1v4h-1zM914 294h1v4h-1zM915 290h1v4h-1zM916 286h1v4h-1zM917 282h1v4h-1zM918 277h1v5h-1zM919 273h1v4h-1zM920 269h1v4h-1zM921 265h1v4h-1zM922 261h1v4h-1zM923 258h1v3h-1zM924 256h1v2h-1zM925 253h1v3h-1zM926 251h1v2h-1zM927 249h1v2h-1zM928 246h1v3h-1zM929 244h1v2h-1zM930 242h1v2h-1zM931 240h1v2h-1zM932 237h1v3h-1zM933 234h1v3h-1zM934 231h1v3h-1zM935 228h1v3h-1zM936 225h1v3h-1zM937 221h1v4h-1zM938 217h1v4h-1zM939 213h1v4h-1zM940 210h1v3h-1zM941 208h1v2h-1zM942 206h1v2h-1zM943 204h1v2h-1zM944 203h1v1h-1zM945 201h1v2h-1zM946 200h1v1h-1zM947 199h1v1h-1zM948 200h1v1h-1zM949 201h1v1h-1zM950 202h1v2h-1zM951 204h1v3h-1zM952 207h1v2h-1zM953 209h1v2h-1zM954 211h1v2h-1zM955 213h1v2h-1zM956 215h1v1h-1zM957 216h1v2h-1zM958 218h1v2h-1zM959 220h1v2h-1zM960 222h1v2h-1zM961 224h1v1h-1zM962 225h2v1h-2zM964 226h2v1h-2zM966 227h1v1h-1zM967 228h2v1h-2zM969 229h1v1h-1zM970 230h2v1h-2zM972 231h2v1h-2zM974 232h2v1h-2zM976 233h1v1h-1zM977 234h2v1h-2zM979 235h2v1h-2zM981 236h2v1h-2zM983 237h3v1h-3zM986 238h2v1h-2z"/>
<rect x="3" y="107" width="997" height="1" fill="#f00"/>
<rect x="3" y="246" width="997" height="1" fill="#f00"/>
<rect x="3" y="317" width="997" height="1" fill="#f00"/>
<path fill="#f00" d="M876 109h1v1h-1zM877 110h2v1h-2zM879 111h1v1h-1zM880 112h2v1h-2zM882 113h2v1h-2zM884 114h1v1h-1zM885 115h2v1h-2zM887 116h1v1h-1zM888 117h2v1h-2zM890 118h1v1h-1zM891 119h2v1h-2zM893 120h1v1h-1zM894 121h2v1h-2zM896 122h2v1h-2zM898 123h1v1h-1zM899 124h2v1h-2zM901 125h1v1h-1zM902 126h2v1h-2zM904 127h1v1h-1zM905 128h2v1h-2zM907 129h1v1h-1zM908 130h2v1h-2zM910 131h2v1h-2zM912 132h1v1h-1zM913 133h2v1h-2zM915 134h1v1h-1zM916 135h2v1h-2zM918 136h1v1h-1zM919 137h2v1h-2zM921 138h1v1h-1zM922 139h2v1h-2zM924 140h2v1h-2zM926 141h1v1h-1zM927 142h2v1h-2zM929 143h1v1h-1zM930 144h2v1h-2zM932 145h1v1h-1zM933 146h2v1h-2zM935 147h1v1h-1zM936 148h2v1h-2zM938 149h2v1h-2zM940 150h1v1h-1zM941 151h2v1h-2zM943 152h1v1h-1zM944 153h2v1h-2zM946 154h1v1h-1zM947 155h2v1h-2zM949 156h1v1h-1zM950 157h2v1h-2zM952 158h2v1h-2zM954 159h1v1h-1zM955 160h2v1h-2zM957 161h1v1h-1zM958 162h2v1h-2zM960 163h1v1h-1zM961 164h2v1h-2zM963 165h1v1h-1zM964 166h2v1h-2zM966 167h2v1h-2zM968 168h1v1h-1zM969 169h2v1h-2zM971 170h1v1h-1zM972 171h2v1h-2zM974 172h1v1h-1zM975 173h2v1h-2zM977 174h1v1h-1zM978 175h2v1h-2zM980 176h2v1h-2zM982 177h1v1h-1zM983 178h2v1h-2zM985 179h1v1h-1zM986 180h2v1h-2zM988 181h1v1h-1zM989 182h2v1h-2zM991 183h1v1h-1zM992 184h2v1h-2zM994 185h2v1h-2zM996 186h1v1h-1zM997 187h2v1h-2zM999 188h1v1h-1z"/>
<rect x="3.5" y="244.5" width="4" height="4" fill="#fff" stroke="#f00" stroke-width="1"/>
<rect x="994.5" y="244.5" width="4" height="4" fill="#fff" stroke="#f00" stroke-width="1"/>
<rect x="3.5" y="315.5" width="4" height="4" fill="#fff" stroke="#f00" stroke-width="1"/>
<rect x="994.5" y="315.5" width="4" height="4" fill="#fff" stroke="#f00" stroke-width="1"/>
<rect x="3" y="203" width="1" height="49" fill="#000"/>
<rect x="2" y="203" width="3" height="32" fill="#000"/>
<rect x="3" y="204" width="1" height="30" fill="#fff"/>
<rect x="7" y="195" width="1" height="20" fill="#000"/>
<rect x="6" y="206" width="3" height="4" fill="#000"/>
<rect x="11" y="197" width="1" height="26" fill="#000"/>
<rect x="10" y="206" width="3" height="4" fill="#000"/>
<rect x="11" y="207" width="1" height="2" fill="#fff"/>
<rect x="15" y="198" width="1" height="12" fill="#000"/>
<rect x="14" y="204" width="3" height="3" fill="#000"/>
<rect x="15" y="205" width="1" height="1" fill="#fff"/>
<rect x="19" y="200" width="1" height="12" fill="#000"/>
<rect x="18" y="204" width="3" height="8" fill="#000"/>
<rect x="23" y="209" width="1" height="13" fill="#000"/>
<rect x="22" y="209" width="3" height="3" fill="#000"/>
<rect x="23" y="210" width="1" height="1" fill="#fff"/>
<rect x="27" y="209" width="1" height="8" fill="#000"/>
<rect x="26" y="210" width="3" height="1" fill="#000"/>
<rect x="31" y="208" width="1" height="11" fill="#000"/>
<rect x="30" y="208" width="3" height="6" fill="#000"/>
<rect x="31" y="209" width="1" height="4" fill="#fff"/>
<rect x="35" y="191" width="1" height="19" fill="#000"/>
<rect x="34" y="203" width="3" height="6" fill="#000"/>
<rect x="35" y="204" width="1" height="4" fill="#fff"/>
<rect x="39" y="196" width="1" height="9" fill="#000"/>
<rect x="38" y="197" width="3" height="8" fill="#000"/>
<rect x="39" y="198" width="1" height="6" fill="#fff"/>
<rect x="43" y="196" width="1" height="7" fill="#000"/>
<rect x="42" y="197" width="3" height="5" fill="#000"/>
<rect x="47" y="196" width="1" height="8" fill="#000"/>
<rect x="46" y="197" width="3" height="5" fill="#000"/>
<rect x="47" y="198" width="1" height="3" fill="#fff"/>
<rect x="51" y="193" width="1" height="7" fill="#000"/>
<rect x="50" y="196" width="3" height="1" fill="#000"/>
<rect x="55" y="193" width="1" height="6" fill="#000"/>
<rect x="54" y="194" width="3" height="3" fill="#000"/>
<rect x="55" y="195" width="1" height="1" fill="#fff"/>
<rect x="59" y="193" width="1" height="5" fill="#000"/>
<rect x="58" y="195" width="3" height="1" fill="#000"/>
<rect x="63" y="182" width="1" height="15" fill="#000"/>
<rect x="62" y="190" width="3" height="6" fill="#000"/>
<rect x="63" y="191" width="1" height="4" fill="#fff"/>
<rect x="67" y="188" width="1" height="18" fill="#000"/>
<rect x="66" y="190" width="3" height="4" fill="#000"/>
<rect x="71" y="155" width="1" height="41" fill="#000"/>
<rect x="70" y="159" width="3" height="35" fill="#000"/>
<rect x="71" y="160" width="1" height="33" fill="#fff"/>
<rect x="75" y="144" width="1" height="25" fill="#000"/>
<rect x="74" y="146" width="3" height="14" fill="#000"/>
<rect x="75" y="147" width="1" height="12" fill="#fff"/>
<rect x="79" y="137" width="1" height="13" fill="#000"/>
<rect x="78" y="142" width="3" height="5" fill="#000"/>
<rect x="79" y="143" width="1" height="3" fill="#fff"/>
<rect x="83" y="134" width="1" height="17" fill="#000"/>
<rect x="82" y="139" width="3" height="4" fill="#000"/>
<rect x="83" y="140" width="1" height="2" fill="#fff"/>
<rect x="87" y="138" width="1" height="15" fill="#000"/>
<rect x="86" y="140" width="3" height="1" fill="#000"/>
<rect x="91" y="124" width="1" height="22" fill="#000"/>
<rect x="90" y="137" width="3" height="5" fill="#000"/>
<rect x="91" y="138" width="1" height="3" fill="#fff"/>
<rect x="95" y="136" width="1" height="28" fill="#000"/>
<rect x="94" y="137" width="3" height="26" fill="#000"/>
<rect x="99" y="159" width="1" height="28" fill="#000"/>
<rect x="98" y="162" width="3" height="19" fill="#000"/>
<rect x="103" y="181" width="1" height="20" fill="#000"/>
<rect x="102" y="182" width="3" height="4" fill="#000"/>
<rect x="107" y="182" width="1" height="29" fill="#000"/>
<rect x="106" y="185" width="3" height="15" fill="#000"/>
<rect x="111" y="194" width="1" height="12" fill="#000"/>
<rect x="110" y="199" width="3" height="6" fill="#000"/>
<rect x="115" y="179" width="1" height="28" fill="#000"/>
<rect x="114" y="183" width="3" height="23" fill="#000"/>
<rect x="115" y="184" width="1" height="21" fill="#fff"/>
<rect x="119" y="180" width="1" height="8" fill="#000"/>
<rect x="118" y="181" width="3" height="3" fill="#000"/>
<rect x="119" y="182" width="1" height="1" fill="#fff"/>
<rect x="123" y="175" width="1" height="8" fill="#000"/>
<rect x="122" y="176" width="3" height="6" fill="#000"/>
<rect x="123" y="177" width="1" height="4" fill="#fff"/>
<rect x="127" y="172" width="1" height="71" fill="#000"/>
<rect x="126" y="186" width="3" height="23" fill="#000"/>
<rect x="131" y="198" width="1" height="19" fill="#000"/>
<rect x="130" y="203" width="3" height="3" fill="#000"/>
<rect x="131" y="204" width="1" height="1" fill="#fff"/>
<rect x="135" y="187" width="1" height="18" fill="#000"/>
<rect x="134" y="192" width="3" height="12" fill="#000"/>
<rect x="135" y="193" width="1" height="10" fill="#fff"/>
<rect x="139" y="186" width="1" height="20" fill="#000"/>
<rect x="138" y="192" width="3" height="10" fill="#000"/>
<rect x="143" y="196" width="1" height="11" fill="#000"/>
<rect x="142" y="199" width="3" height="2" fill="#000"/>
<rect x="147" y="199" width="1" height="10" fill="#000"/>
<rect x="146" y="200" width="3" height="1" fill="#000"/>
<rect x="151" y="198" width="1" height="4" fill="#000"/>
<rect x="150" y="199" width="3" height="2" fill="#000"/>
<rect x="155" y="199" width="1" height="9" fill="#000"/>
<rect x="154" y="199" width="3" height="7" fill="#000"/>
<rect x="159" y="204" width="1" height="18" fill="#000"/>
<rect x="158" y="205" width="3" height="16" fill="#000"/>
<rect x="163" y="212" width="1" height="32" fill="#000"/>
<rect x="162" y="219" width="3" height="19" fill="#000"/>
<rect x="167" y="226" width="1" height="22" fill="#000"/>
<rect x="166" y="238" width="3" height="5" fill="#000"/>
<rect x="171" y="231" width="1" height="25" fill="#000"/>
<rect x="170" y="237" width="3" height="5" fill="#000"/>
<rect x="171" y="238" width="1" height="3" fill="#fff"/>
<rect x="175" y="228" width="1" height="22" fill="#000"/>
<rect x="174" y="237" width="3" height="8" fill="#000"/>
<rect x="179" y="243" width="1" height="40" fill="#000"/>
<rect x="178" y="244" width="3" height="37" fill="#000"/>
<rect x="183" y="248" width="1" height="40" fill="#000"/>
<rect x="182" y="251" width="3" height="30" fill="#000"/>
<rect x="183" y="252" width="1" height="28" fill="#fff"/>
<rect x="187" y="242" width="1" height="23" fill="#000"/>
<rect x="186" y="250" width="3" height="11" fill="#000"/>
<rect x="191" y="241" width="1" height="30" fill="#000"/>
<rect x="190" y="243" width="3" height="16" fill="#000"/>
<rect x="191" y="244" width="1" height="14" fill="#fff"/>
<rect x="195" y="235" width="1" height="35" fill="#000"/>
<rect x="194" y="242" width="3" height="25" fill="#000"/>
<rect x="199" y="251" width="1" height="23" fill="#000"/>
<rect x="198" y="255" width="3" height="12" fill="#000"/>
<rect x="199" y="256" width="1" height="10" fill="#fff"/>
<rect x="203" y="239" width="1" height="19" fill="#000"/>
<rect x="202" y="242" width="3" height="13" fill="#000"/>
<rect x="203" y="243" width="1" height="11" fill="#fff"/>
<rect x="207" y="242" width="1" height="32" fill="#000"/>
<rect x="206" y="242" width="3" height="18" fill="#000"/>
<rect x="211" y="254" width="1" height="16" fill="#000"/>
<rect x="210" y="257" width="3" height="4" fill="#000"/>
<rect x="211" y="258" width="1" height="2" fill="#fff"/>
<rect x="215" y="244" width="1" height="14" fill="#000"/>
<rect x="214" y="251" width="3" height="6" fill="#000"/>
<rect x="215" y="252" width="1" height="4" fill="#fff"/>
<rect x="219" y="247" width="1" height="11" fill="#000"/>
<rect x="218" y="252" width="3" height="5" fill="#000"/>
<rect x="223" y="243" width="1" height="18" fill="#000"/>
<rect x="222" y="252" width="3" height="7" fill="#000"/>
<rect x="223" y="253" width="1" height="5" fill="#fff"/>
<rect x="227" y="244" width="1" height="9" fill="#000"/>
<rect x="226" y="247" width="3" height="3" fill="#000"/>
<rect x="227" y="248" width="1" height="1" fill="#fff"/>
<rect x="231" y="243" width="1" height="12" fill="#000"/>
<rect x="230" y="248" width="3" height="1" fill="#000"/>
<rect x="235" y="238" width="1" height="13" fill="#000"/>
<rect x="234" y="245" width="3" height="5" fill="#000"/>
<rect x="235" y="246" width="1" height="3" fill="#fff"/>
<rect x="239" y="233" width="1" height="14" fill="#000"/>
<rect x="238" y="234" width="3" height="12" fill="#000"/>
<rect x="239" y="235" width="1" height="10" fill="#fff"/>
<rect x="243" y="232" width="1" height="7" fill="#000"/>
<rect x="242" y="234" width="3" height="2" fill="#000"/>
<rect x="247" y="232" width="1" height="10" fill="#000"/>
<rect x="246" y="235" width="3" height="6" fill="#000"/>
<rect x="251" y="239" width="1" height="4" fill="#000"/>
<rect x="250" y="239" width="3" height="2" fill="#000"/>
<rect x="255" y="232" width="1" height="9" fill="#000"/>
<rect x="254" y="234" width="3" height="6" fill="#000"/>
<rect x="255" y="235" width="1" height="4" fill="#fff"/>
<rect x="259" y="233" width="1" height="39" fill="#000"/>
<rect x="258" y="233" width="3" height="33" fill="#000"/>
<rect x="263" y="256" width="1" height="74" fill="#000"/>
<rect x="262" y="266" width="3" height="45" fill="#000"/>
<rect x="267" y="289" width="1" height="25" fill="#000"/>
<rect x="266" y="306" width="3" height="5" fill="#000"/>
<rect x="267" y="307" width="1" height="3" fill="#fff"/>
<rect x="271" y="298" width="1" height="25" fill="#000"/>
<rect x="270" y="306" width="3" height="16" fill="#000"/>
<rect x="275" y="316" width="1" height="24" fill="#000"/>
<rect x="274" y="320" width="3" height="11" fill="#000"/>
<rect x="279" y="325" width="1" height="22" fill="#000"/>
<rect x="278" y="330" width="3" height="13" fill="#000"/>
<rect x="283" y="331" width="1" height="34" fill="#000"/>
<rect x="282" y="334" width="3" height="9" fill="#000"/>
<rect x="283" y="335" width="1" height="7" fill="#fff"/>
<rect x="287" y="303" width="1" height="34" fill="#000"/>
<rect x="286" y="315" width="3" height="19" fill="#000"/>
<rect x="287" y="316" width="1" height="17" fill="#fff"/>
<rect x="291" y="281" width="1" height="36" fill="#000"/>
<rect x="290" y="308" width="3" height="8" fill="#000"/>
<rect x="291" y="309" width="1" height="6" fill="#fff"/>
<rect x="295" y="297" width="1" height="28" fill="#000"/>
<rect x="294" y="308" width="3" height="15" fill="#000"/>
<rect x="299" y="300" width="1" height="28" fill="#000"/>
<rect x="298" y="301" width="3" height="22" fill="#000"/>
<rect x="299" y="302" width="1" height="20" fill="#fff"/>
<rect x="303" y="299" width="1" height="12" fill="#000"/>
<rect x="302" y="301" width="3" height="1" fill="#000"/>
<rect x="307" y="300" width="1" height="9" fill="#000"/>
<rect x="306" y="301" width="3" height="1" fill="#000"/>
<rect x="311" y="301" width="1" height="8" fill="#000"/>
<rect x="310" y="301" width="3" height="2" fill="#000"/>
<rect x="315" y="209" width="1" height="30" fill="#000"/>
<rect x="314" y="209" width="3" height="23" fill="#000"/>
<rect x="319" y="223" width="1" height="16" fill="#000"/>
<rect x="318" y="233" width="3" height="6" fill="#000"/>
<rect x="323" y="233" width="1" height="21" fill="#000"/>
<rect x="322" y="240" width="3" height="10" fill="#000"/>
<rect x="327" y="233" width="1" height="23" fill="#000"/>
<rect x="326" y="236" width="3" height="14" fill="#000"/>
<rect x="327" y="237" width="1" height="12" fill="#fff"/>
<rect x="331" y="222" width="1" height="19" fill="#000"/>
<rect x="330" y="226" width="3" height="11" fill="#000"/>
<rect x="331" y="227" width="1" height="9" fill="#fff"/>
<rect x="335" y="225" width="1" height="10" fill="#000"/>
<rect x="334" y="226" width="3" height="4" fill="#000"/>
<rect x="339" y="228" width="1" height="11" fill="#000"/>
<rect x="338" y="230" width="3" height="8" fill="#000"/>
<rect x="343" y="232" width="1" height="11" fill="#000"/>
<rect x="342" y="232" width="3" height="7" fill="#000"/>
<rect x="343" y="233" width="1" height="5" fill="#fff"/>
<rect x="347" y="212" width="1" height="21" fill="#000"/>
<rect x="346" y="214" width="3" height="19" fill="#000"/>
<rect x="347" y="215" width="1" height="17" fill="#fff"/>
<rect x="351" y="186" width="1" height="35" fill="#000"/>
<rect x="350" y="191" width="3" height="23" fill="#000"/>
<rect x="351" y="192" width="1" height="21" fill="#fff"/>
<rect x="355" y="174" width="1" height="19" fill="#000"/>
<rect x="354" y="183" width="3" height="9" fill="#000"/>
<rect x="355" y="184" width="1" height="7" fill="#fff"/>
<rect x="359" y="171" width="1" height="16" fill="#000"/>
<rect x="358" y="172" width="3" height="11" fill="#000"/>
<rect x="359" y="173" width="1" height="9" fill="#fff"/>
<rect x="363" y="153" width="1" height="25" fill="#000"/>
<rect x="362" y="158" width="3" height="14" fill="#000"/>
<rect x="363" y="159" width="1" height="12" fill="#fff"/>
<rect x="367" y="152" width="1" height="15" fill="#000"/>
<rect x="366" y="158" width="3" height="6" fill="#000"/>
<rect x="371" y="147" width="1" height="30" fill="#000"/>
<rect x="370" y="163" width="3" height="13" fill="#000"/>
<rect x="375" y="167" width="1" height="18" fill="#000"/>
<rect x="374" y="176" width="3" height="2" fill="#000"/>
<rect x="379" y="175" width="1" height="31" fill="#000"/>
<rect x="378" y="177" width="3" height="16" fill="#000"/>
<rect x="383" y="189" width="1" height="54" fill="#000"/>
<rect x="382" y="192" width="3" height="46" fill="#000"/>
<rect x="387" y="220" width="1" height="20" fill="#000"/>
<rect x="386" y="235" width="3" height="3" fill="#000"/>
<rect x="387" y="236" width="1" height="1" fill="#fff"/>
<rect x="391" y="212" width="1" height="24" fill="#000"/>
<rect x="390" y="225" width="3" height="9" fill="#000"/>
<rect x="391" y="226" width="1" height="7" fill="#fff"/>
<rect x="395" y="222" width="1" height="13" fill="#000"/>
<rect x="394" y="225" width="3" height="5" fill="#000"/>
<rect x="399" y="226" width="1" height="8" fill="#000"/>
<rect x="398" y="229" width="3" height="5" fill="#000"/>
<rect x="403" y="230" width="1" height="6" fill="#000"/>
<rect x="402" y="231" width="3" height="3" fill="#000"/>
<rect x="403" y="232" width="1" height="1" fill="#fff"/>
<rect x="407" y="228" width="1" height="8" fill="#000"/>
<rect x="406" y="229" width="3" height="3" fill="#000"/>
<rect x="407" y="230" width="1" height="1" fill="#fff"/>
<rect x="411" y="225" width="1" height="19" fill="#000"/>
<rect x="410" y="230" width="3" height="6" fill="#000"/>
<rect x="411" y="231" width="1" height="4" fill="#fff"/>
<rect x="415" y="228" width="1" height="7" fill="#000"/>
<rect x="414" y="229" width="3" height="3" fill="#000"/>
<rect x="419" y="217" width="1" height="17" fill="#000"/>
<rect x="418" y="223" width="3" height="10" fill="#000"/>
<rect x="419" y="224" width="1" height="8" fill="#fff"/>
<rect x="423" y="217" width="1" height="9" fill="#000"/>
<rect x="422" y="222" width="3" height="1" fill="#000"/>
<rect x="427" y="216" width="1" height="8" fill="#000"/>
<rect x="426" y="219" width="3" height="4" fill="#000"/>
<rect x="427" y="220" width="1" height="2" fill="#fff"/>
<rect x="431" y="215" width="1" height="10" fill="#000"/>
<rect x="430" y="219" width="3" height="4" fill="#000"/>
<rect x="435" y="222" width="1" height="11" fill="#000"/>
<rect x="434" y="223" width="3" height="9" fill="#000"/>
<rect x="439" y="217" width="1" height="16" fill="#000"/>
<rect x="438" y="219" width="3" height="13" fill="#000"/>
<rect x="439" y="220" width="1" height="11" fill="#fff"/>
<rect x="443" y="216" width="1" height="15" fill="#000"/>
<rect x="442" y="217" width="3" height="5" fill="#000"/>
<rect x="447" y="215" width="1" height="20" fill="#000"/>
<rect x="446" y="221" width="3" height="10" fill="#000"/>
<rect x="451" y="225" width="1" height="39" fill="#000"/>
<rect x="450" y="230" width="3" height="16" fill="#000"/>
<rect x="455" y="228" width="1" height="29" fill="#000"/>
<rect x="454" y="236" width="3" height="10" fill="#000"/>
<rect x="455" y="237" width="1" height="8" fill="#fff"/>
<rect x="459" y="228" width="1" height="19" fill="#000"/>
<rect x="458" y="231" width="3" height="5" fill="#000"/>
<rect x="459" y="232" width="1" height="3" fill="#fff"/>
<rect x="463" y="189" width="1" height="44" fill="#000"/>
<rect x="462" y="195" width="3" height="36" fill="#000"/>
<rect x="463" y="196" width="1" height="34" fill="#fff"/>
<rect x="467" y="181" width="1" height="24" fill="#000"/>
<rect x="466" y="195" width="3" height="8" fill="#000"/>
<rect x="471" y="183" width="1" height="21" fill="#000"/>
<rect x="470" y="188" width="3" height="15" fill="#000"/>
<rect x="471" y="189" width="1" height="13" fill="#fff"/>
<rect x="475" y="184" width="1" height="20" fill="#000"/>
<rect x="474" y="188" width="3" height="15" fill="#000"/>
<rect x="479" y="177" width="1" height="31" fill="#000"/>
<rect x="478" y="180" width="3" height="23" fill="#000"/>
<rect x="479" y="181" width="1" height="21" fill="#fff"/>
<rect x="483" y="142" width="1" height="50" fill="#000"/>
<rect x="482" y="158" width="3" height="22" fill="#000"/>
<rect x="483" y="159" width="1" height="20" fill="#fff"/>
<rect x="487" y="151" width="1" height="16" fill="#000"/>
<rect x="486" y="158" width="3" height="2" fill="#000"/>
<rect x="491" y="145" width="1" height="17" fill="#000"/>
<rect x="490" y="158" width="3" height="3" fill="#000"/>
<rect x="495" y="156" width="1" height="23" fill="#000"/>
<rect x="494" y="157" width="3" height="4" fill="#000"/>
<rect x="495" y="158" width="1" height="2" fill="#fff"/>
<rect x="499" y="143" width="1" height="21" fill="#000"/>
<rect x="498" y="144" width="3" height="14" fill="#000"/>
<rect x="499" y="145" width="1" height="12" fill="#fff"/>
<rect x="503" y="133" width="1" height="18" fill="#000"/>
<rect x="502" y="135" width="3" height="9" fill="#000"/>
<rect x="503" y="136" width="1" height="7" fill="#fff"/>
<rect x="507" y="134" width="1" height="14" fill="#000"/>
<rect x="506" y="142" width="3" height="2" fill="#000"/>
<rect x="511" y="141" width="1" height="11" fill="#000"/>
<rect x="510" y="143" width="3" height="4" fill="#000"/>
<rect x="515" y="146" width="1" height="9" fill="#000"/>
<rect x="514" y="147" width="3" height="6" fill="#000"/>
<rect x="519" y="150" width="1" height="5" fill="#000"/>
<rect x="518" y="152" width="3" height="1" fill="#000"/>
<rect x="523" y="146" width="1" height="6" fill="#000"/>
<rect x="522" y="148" width="3" height="4" fill="#000"/>
<rect x="523" y="149" width="1" height="2" fill="#fff"/>
<rect x="527" y="146" width="1" height="4" fill="#000"/>
<rect x="526" y="147" width="3" height="2" fill="#000"/>
<rect x="531" y="130" width="1" height="21" fill="#000"/>
<rect x="530" y="132" width="3" height="16" fill="#000"/>
<rect x="531" y="133" width="1" height="14" fill="#fff"/>
<rect x="535" y="129" width="1" height="11" fill="#000"/>
<rect x="534" y="132" width="3" height="2" fill="#000"/>
<rect x="539" y="130" width="1" height="14" fill="#000"/>
<rect x="538" y="132" width="3" height="3" fill="#000"/>
<rect x="539" y="133" width="1" height="1" fill="#fff"/>
<rect x="543" y="114" width="1" height="32" fill="#000"/>
<rect x="542" y="118" width="3" height="13" fill="#000"/>
<rect x="543" y="119" width="1" height="11" fill="#fff"/>
<rect x="547" y="94" width="1" height="33" fill="#000"/>
<rect x="546" y="105" width="3" height="13" fill="#000"/>
<rect x="547" y="106" width="1" height="11" fill="#fff"/>
<rect x="551" y="96" width="1" height="19" fill="#000"/>
<rect x="550" y="97" width="3" height="7" fill="#000"/>
<rect x="551" y="98" width="1" height="5" fill="#fff"/>
<rect x="555" y="94" width="1" height="15" fill="#000"/>
<rect x="554" y="97" width="3" height="11" fill="#000"/>
<rect x="559" y="74" width="1" height="36" fill="#000"/>
<rect x="558" y="86" width="3" height="22" fill="#000"/>
<rect x="559" y="87" width="1" height="20" fill="#fff"/>
<rect x="563" y="74" width="1" height="29" fill="#000"/>
<rect x="562" y="75" width="3" height="11" fill="#000"/>
<rect x="563" y="76" width="1" height="9" fill="#fff"/>
<rect x="567" y="71" width="1" height="29" fill="#000"/>
<rect x="566" y="75" width="3" height="15" fill="#000"/>
<rect x="571" y="88" width="1" height="20" fill="#000"/>
<rect x="570" y="90" width="3" height="12" fill="#000"/>
<rect x="575" y="97" width="1" height="25" fill="#000"/>
<rect x="574" y="101" width="3" height="9" fill="#000"/>
<rect x="579" y="104" width="1" height="17" fill="#000"/>
<rect x="578" y="107" width="3" height="2" fill="#000"/>
<rect x="583" y="106" width="1" height="30" fill="#000"/>
<rect x="582" y="107" width="3" height="22" fill="#000"/>
<rect x="587" y="113" width="1" height="21" fill="#000"/>
<rect x="586" y="115" width="3" height="13" fill="#000"/>
<rect x="587" y="116" width="1" height="11" fill="#fff"/>
<rect x="591" y="114" width="1" height="30" fill="#000"/>
<rect x="590" y="115" width="3" height="9" fill="#000"/>
<rect x="595" y="104" width="1" height="22" fill="#000"/>
<rect x="594" y="117" width="3" height="8" fill="#000"/>
<rect x="595" y="118" width="1" height="6" fill="#fff"/>
<rect x="599" y="101" width="1" height="17" fill="#000"/>
<rect x="598" y="104" width="3" height="13" fill="#000"/>
<rect x="599" y="105" width="1" height="11" fill="#fff"/>
<rect x="603" y="104" width="1" height="11" fill="#000"/>
<rect x="602" y="104" width="3" height="6" fill="#000"/>
<rect x="607" y="107" width="1" height="5" fill="#000"/>
<rect x="606" y="108" width="3" height="3" fill="#000"/>
<rect x="607" y="109" width="1" height="1" fill="#fff"/>
<rect x="611" y="103" width="1" height="10" fill="#000"/>
<rect x="610" y="104" width="3" height="4" fill="#000"/>
<rect x="611" y="105" width="1" height="2" fill="#fff"/>
<rect x="615" y="88" width="1" height="16" fill="#000"/>
<rect x="614" y="90" width="3" height="13" fill="#000"/>
<rect x="615" y="91" width="1" height="11" fill="#fff"/>
<rect x="619" y="80" width="1" height="12" fill="#000"/>
<rect x="618" y="82" width="3" height="8" fill="#000"/>
<rect x="619" y="83" width="1" height="6" fill="#fff"/>
<rect x="623" y="81" width="1" height="13" fill="#000"/>
<rect x="622" y="82" width="3" height="9" fill="#000"/>
<rect x="627" y="79" width="1" height="14" fill="#000"/>
<rect x="626" y="80" width="3" height="11" fill="#000"/>
<rect x="627" y="81" width="1" height="9" fill="#fff"/>
<rect x="631" y="66" width="1" height="17" fill="#000"/>
<rect x="630" y="67" width="3" height="14" fill="#000"/>
<rect x="631" y="68" width="1" height="12" fill="#fff"/>
<rect x="635" y="62" width="1" height="10" fill="#000"/>
<rect x="634" y="64" width="3" height="3" fill="#000"/>
<rect x="635" y="65" width="1" height="1" fill="#fff"/>
<rect x="639" y="52" width="1" height="14" fill="#000"/>
<rect x="638" y="57" width="3" height="8" fill="#000"/>
<rect x="639" y="58" width="1" height="6" fill="#fff"/>
<rect x="643" y="48" width="1" height="13" fill="#000"/>
<rect x="642" y="51" width="3" height="6" fill="#000"/>
<rect x="643" y="52" width="1" height="4" fill="#fff"/>
<rect x="647" y="48" width="1" height="12" fill="#000"/>
<rect x="646" y="49" width="3" height="2" fill="#000"/>
<rect x="651" y="38" width="1" height="17" fill="#000"/>
<rect x="650" y="39" width="3" height="11" fill="#000"/>
<rect x="651" y="40" width="1" height="9" fill="#fff"/>
<rect x="655" y="22" width="1" height="19" fill="#000"/>
<rect x="654" y="23" width="3" height="17" fill="#000"/>
<rect x="655" y="24" width="1" height="15" fill="#fff"/>
<rect x="659" y="22" width="1" height="27" fill="#000"/>
<rect x="658" y="23" width="3" height="24" fill="#000"/>
<rect x="663" y="31" width="1" height="20" fill="#000"/>
<rect x="662" y="43" width="3" height="3" fill="#000"/>
<rect x="663" y="44" width="1" height="1" fill="#fff"/>
<rect x="667" y="36" width="1" height="15" fill="#000"/>
<rect x="666" y="37" width="3" height="6" fill="#000"/>
<rect x="667" y="38" width="1" height="4" fill="#fff"/>
<rect x="671" y="35" width="1" height="33" fill="#000"/>
<rect x="670" y="37" width="3" height="6" fill="#000"/>
<rect x="675" y="30" width="1" height="18" fill="#000"/>
<rect x="674" y="32" width="3" height="11" fill="#000"/>
<rect x="675" y="33" width="1" height="9" fill="#fff"/>
<rect x="679" y="21" width="1" height="15" fill="#000"/>
<rect x="678" y="32" width="3" height="2" fill="#000"/>
<rect x="683" y="26" width="1" height="16" fill="#000"/>
<rect x="682" y="27" width="3" height="7" fill="#000"/>
<rect x="683" y="28" width="1" height="5" fill="#fff"/>
<rect x="687" y="24" width="1" height="33" fill="#000"/>
<rect x="686" y="26" width="3" height="31" fill="#000"/>
<rect x="691" y="51" width="1" height="27" fill="#000"/>
<rect x="690" y="57" width="3" height="10" fill="#000"/>
<rect x="695" y="50" width="1" height="18" fill="#000"/>
<rect x="694" y="51" width="3" height="16" fill="#000"/>
<rect x="695" y="52" width="1" height="14" fill="#fff"/>
<rect x="699" y="46" width="1" height="12" fill="#000"/>
<rect x="698" y="49" width="3" height="1" fill="#000"/>
<rect x="703" y="48" width="1" height="13" fill="#000"/>
<rect x="702" y="49" width="3" height="12" fill="#000"/>
<rect x="707" y="57" width="1" height="14" fill="#000"/>
<rect x="706" y="60" width="3" height="10" fill="#000"/>
<rect x="711" y="67" width="1" height="5" fill="#000"/>
<rect x="710" y="69" width="3" height="2" fill="#000"/>
<rect x="715" y="69" width="1" height="18" fill="#000"/>
<rect x="714" y="69" width="3" height="17" fill="#000"/>
<rect x="719" y="83" width="1" height="6" fill="#000"/>
<rect x="718" y="84" width="3" height="3" fill="#000"/>
<rect x="723" y="85" width="1" height="10" fill="#000"/>
<rect x="722" y="86" width="3" height="6" fill="#000"/>
<rect x="727" y="87" width="1" height="8" fill="#000"/>
<rect x="726" y="90" width="3" height="1" fill="#000"/>
<rect x="731" y="72" width="1" height="21" fill="#000"/>
<rect x="730" y="78" width="3" height="13" fill="#000"/>
<rect x="731" y="79" width="1" height="11" fill="#fff"/>
<rect x="735" y="68" width="1" height="26" fill="#000"/>
<rect x="734" y="78" width="3" height="16" fill="#000"/>
<rect x="739" y="73" width="1" height="26" fill="#000"/>
<rect x="738" y="81" width="3" height="13" fill="#000"/>
<rect x="739" y="82" width="1" height="11" fill="#fff"/>
<rect x="743" y="77" width="1" height="39" fill="#000"/>
<rect x="742" y="81" width="3" height="32" fill="#000"/>
<rect x="747" y="92" width="1" height="23" fill="#000"/>
<rect x="746" y="93" width="3" height="21" fill="#000"/>
<rect x="747" y="94" width="1" height="19" fill="#fff"/>
<rect x="751" y="81" width="1" height="18" fill="#000"/>
<rect x="750" y="87" width="3" height="6" fill="#000"/>
<rect x="751" y="88" width="1" height="4" fill="#fff"/>
<rect x="755" y="73" width="1" height="23" fill="#000"/>
<rect x="754" y="86" width="3" height="8" fill="#000"/>
<rect x="759" y="90" width="1" height="23" fill="#000"/>
<rect x="758" y="93" width="3" height="5" fill="#000"/>
<rect x="763" y="90" width="1" height="31" fill="#000"/>
<rect x="762" y="99" width="3" height="16" fill="#000"/>
<rect x="767" y="103" width="1" height="26" fill="#000"/>
<rect x="766" y="115" width="3" height="4" fill="#000"/>
<rect x="771" y="100" width="1" height="24" fill="#000"/>
<rect x="770" y="112" width="3" height="6" fill="#000"/>
<rect x="771" y="113" width="1" height="4" fill="#fff"/>
<rect x="775" y="100" width="1" height="16" fill="#000"/>
<rect x="774" y="104" width="3" height="9" fill="#000"/>
<rect x="775" y="105" width="1" height="7" fill="#fff"/>
<rect x="779" y="100" width="1" height="9" fill="#000"/>
<rect x="778" y="101" width="3" height="3" fill="#000"/>
<rect x="779" y="102" width="1" height="1" fill="#fff"/>
<rect x="783" y="100" width="1" height="10" fill="#000"/>
<rect x="782" y="100" width="3" height="4" fill="#000"/>
<rect x="787" y="103" width="1" height="15" fill="#000"/>
<rect x="786" y="104" width="3" height="10" fill="#000"/>
<rect x="791" y="151" width="1" height="31" fill="#000"/>
<rect x="790" y="159" width="3" height="18" fill="#000"/>
<rect x="791" y="160" width="1" height="16" fill="#fff"/>
<rect x="795" y="156" width="1" height="26" fill="#000"/>
<rect x="794" y="158" width="3" height="21" fill="#000"/>
<rect x="799" y="169" width="1" height="12" fill="#000"/>
<rect x="798" y="172" width="3" height="4" fill="#000"/>
<rect x="799" y="173" width="1" height="2" fill="#fff"/>
<rect x="803" y="171" width="1" height="34" fill="#000"/>
<rect x="802" y="172" width="3" height="24" fill="#000"/>
<rect x="807" y="193" width="1" height="28" fill="#000"/>
<rect x="806" y="193" width="3" height="24" fill="#000"/>
<rect x="811" y="208" width="1" height="16" fill="#000"/>
<rect x="810" y="211" width="3" height="6" fill="#000"/>
<rect x="811" y="212" width="1" height="4" fill="#fff"/>
<rect x="815" y="200" width="1" height="16" fill="#000"/>
<rect x="814" y="205" width="3" height="7" fill="#000"/>
<rect x="815" y="206" width="1" height="5" fill="#fff"/>
<rect x="819" y="202" width="1" height="14" fill="#000"/>
<rect x="818" y="203" width="3" height="3" fill="#000"/>
<rect x="819" y="204" width="1" height="1" fill="#fff"/>
<rect x="823" y="203" width="1" height="16" fill="#000"/>
<rect x="822" y="203" width="3" height="2" fill="#000"/>
<rect x="827" y="204" width="1" height="69" fill="#000"/>
<rect x="826" y="205" width="3" height="56" fill="#000"/>
<rect x="831" y="249" width="1" height="23" fill="#000"/>
<rect x="830" y="260" width="3" height="9" fill="#000"/>
<rect x="835" y="267" width="1" height="43" fill="#000"/>
<rect x="834" y="271" width="3" height="35" fill="#000"/>
<rect x="839" y="289" width="1" height="39" fill="#000"/>
<rect x="838" y="294" width="3" height="12" fill="#000"/>
<rect x="839" y="295" width="1" height="10" fill="#fff"/>
<rect x="843" y="259" width="1" height="44" fill="#000"/>
<rect x="842" y="268" width="3" height="27" fill="#000"/>
<rect x="843" y="269" width="1" height="25" fill="#fff"/>
<rect x="847" y="252" width="1" height="24" fill="#000"/>
<rect x="846" y="262" width="3" height="7" fill="#000"/>
<rect x="847" y="263" width="1" height="5" fill="#fff"/>
<rect x="851" y="231" width="1" height="33" fill="#000"/>
<rect x="850" y="238" width="3" height="24" fill="#000"/>
<rect x="851" y="239" width="1" height="22" fill="#fff"/>
<rect x="855" y="228" width="1" height="27" fill="#000"/>
<rect x="854" y="239" width="3" height="11" fill="#000"/>
<rect x="859" y="234" width="1" height="23" fill="#000"/>
<rect x="858" y="240" width="3" height="10" fill="#000"/>
<rect x="859" y="241" width="1" height="8" fill="#fff"/>
<rect x="863" y="208" width="1" height="33" fill="#000"/>
<rect x="862" y="212" width="3" height="28" fill="#000"/>
<rect x="863" y="213" width="1" height="26" fill="#fff"/>
<rect x="867" y="203" width="1" height="24" fill="#000"/>
<rect x="866" y="209" width="3" height="3" fill="#000"/>
<rect x="867" y="210" width="1" height="1" fill="#fff"/>
<rect x="871" y="197" width="1" height="14" fill="#000"/>
<rect x="870" y="200" width="3" height="10" fill="#000"/>
<rect x="871" y="201" width="1" height="8" fill="#fff"/>
<rect x="875" y="109" width="1" height="93" fill="#000"/>
<rect x="874" y="136" width="3" height="65" fill="#000"/>
<rect x="875" y="137" width="1" height="63" fill="#fff"/>
<rect x="879" y="122" width="1" height="23" fill="#000"/>
<rect x="878" y="136" width="3" height="6" fill="#000"/>
<rect x="883" y="128" width="1" height="30" fill="#000"/>
<rect x="882" y="135" width="3" height="7" fill="#000"/>
<rect x="883" y="136" width="1" height="5" fill="#fff"/>
<rect x="887" y="134" width="1" height="18" fill="#000"/>
<rect x="886" y="134" width="3" height="13" fill="#000"/>
<rect x="891" y="130" width="1" height="18" fill="#000"/>
<rect x="890" y="145" width="3" height="3" fill="#000"/>
<rect x="891" y="146" width="1" height="1" fill="#fff"/>
<rect x="895" y="138" width="1" height="31" fill="#000"/>
<rect x="894" y="146" width="3" height="18" fill="#000"/>
<rect x="899" y="159" width="1" height="18" fill="#000"/>
<rect x="898" y="163" width="3" height="9" fill="#000"/>
<rect x="903" y="162" width="1" height="11" fill="#000"/>
<rect x="902" y="164" width="3" height="8" fill="#000"/>
<rect x="903" y="165" width="1" height="6" fill="#fff"/>
<rect x="907" y="163" width="1" height="12" fill="#000"/>
<rect x="906" y="164" width="3" height="9" fill="#000"/>
<rect x="911" y="171" width="1" height="22" fill="#000"/>
<rect x="910" y="172" width="3" height="16" fill="#000"/>
<rect x="915" y="180" width="1" height="12" fill="#000"/>
<rect x="914" y="187" width="3" height="1" fill="#000"/>
<rect x="919" y="167" width="1" height="24" fill="#000"/>
<rect x="918" y="183" width="3" height="4" fill="#000"/>
<rect x="919" y="184" width="1" height="2" fill="#fff"/>
<rect x="923" y="142" width="1" height="42" fill="#000"/>
<rect x="922" y="155" width="3" height="28" fill="#000"/>
<rect x="923" y="156" width="1" height="26" fill="#fff"/>
<rect x="927" y="143" width="1" height="23" fill="#000"/>
<rect x="926" y="155" width="3" height="2" fill="#000"/>
<rect x="931" y="145" width="1" height="26" fill="#000"/>
<rect x="930" y="156" width="3" height="13" fill="#000"/>
<rect x="935" y="147" width="1" height="58" fill="#000"/>
<rect x="934" y="152" width="3" height="17" fill="#000"/>
<rect x="935" y="153" width="1" height="15" fill="#fff"/>
<rect x="939" y="149" width="1" height="29" fill="#000"/>
<rect x="938" y="151" width="3" height="20" fill="#000"/>
<rect x="943" y="154" width="1" height="23" fill="#000"/>
<rect x="942" y="168" width="3" height="3" fill="#000"/>
<rect x="943" y="169" width="1" height="1" fill="#fff"/>
<rect x="947" y="153" width="1" height="29" fill="#000"/>
<rect x="946" y="169" width="3" height="7" fill="#000"/>
<rect x="951" y="170" width="1" height="49" fill="#000"/>
<rect x="950" y="175" width="3" height="39" fill="#000"/>
<rect x="955" y="200" width="1" height="42" fill="#000"/>
<rect x="954" y="212" width="3" height="22" fill="#000"/>
<rect x="959" y="209" width="1" height="37" fill="#000"/>
<rect x="958" y="216" width="3" height="18" fill="#000"/>
<rect x="959" y="217" width="1" height="16" fill="#fff"/>
<rect x="963" y="201" width="1" height="17" fill="#000"/>
<rect x="962" y="209" width="3" height="7" fill="#000"/>
<rect x="963" y="210" width="1" height="5" fill="#fff"/>
<rect x="967" y="204" width="1" height="12" fill="#000"/>
<rect x="966" y="209" width="3" height="6" fill="#000"/>
<rect x="971" y="209" width="1" height="11" fill="#000"/>
<rect x="970" y="212" width="3" height="4" fill="#000"/>
<rect x="971" y="213" width="1" height="2" fill="#fff"/>
<rect x="975" y="204" width="1" height="19" fill="#000"/>
<rect x="974" y="206" width="3" height="5" fill="#000"/>
<rect x="975" y="207" width="1" height="3" fill="#fff"/>
<rect x="979" y="194" width="1" height="16" fill="#000"/>
<rect x="978" y="205" width="3" height="1" fill="#000"/>
<rect x="983" y="203" width="1" height="14" fill="#000"/>
<rect x="982" y="208" width="3" height="8" fill="#000"/>
<rect x="983" y="209" width="1" height="6" fill="#fff"/>
<rect x="987" y="188" width="1" height="19" fill="#000"/>
<rect x="986" y="190" width="3" height="16" fill="#000"/>
<rect x="987" y="191" width="1" height="14" fill="#fff"/>
<path fill="#cfcfc6" d="M4 459h1v1h-1zM5 458h1v1h-1zM6 457h2v1h-2zM8 456h1v1h-1zM9 455h1v1h-1zM10 454h2v1h-2zM12 453h2v1h-2zM14 452h2v1h-2zM16 451h3v1h-3zM19 450h4v1h-4zM23 449h10v1h-10zM33 448h2v1h-2zM35 447h2v1h-2zM37 446h2v1h-2zM39 445h2v1h-2zM41 444h2v1h-2zM43 443h3v1h-3zM46 442h2v1h-2zM48 441h4v1h-4zM52 440h5v1h-5zM57 439h5v1h-5zM62 438h4v1h-4zM66 437h2v1h-2zM68 435h1v2h-1zM69 433h1v2h-1zM70 431h1v2h-1zM71 429h1v2h-1zM72 427h1v2h-1zM73 426h1v1h-1zM74 425h1v1h-1zM75 423h1v2h-1zM76 422h1v1h-1zM77 421h1v1h-1zM78 420h1v1h-1zM79 418h1v2h-1zM80 417h1v1h-1zM81 416h1v1h-1zM82 415h1v1h-1zM83 414h1v1h-1zM84 413h1v1h-1zM85 412h1v1h-1zM86 411h1v1h-1zM87 410h1v1h-1zM88 409h3v1h-3zM91 408h3v1h-3zM94 409h2v1h-2zM96 410h1v2h-1zM97 412h1v2h-1zM98 414h1v2h-1zM99 416h1v2h-1zM100 418h1v2h-1zM101 420h1v2h-1zM102 422h1v2h-1zM103 424h1v2h-1zM104 426h1v2h-1zM105 428h1v1h-1zM106 429h1v2h-1zM107 431h1v1h-1zM108 432h1v2h-1zM109 434h1v1h-1zM110 435h1v2h-1zM111 437h2v1h-2zM113 438h4v1h-4zM117 439h6v1h-6zM123 440h1v2h-1zM124 442h1v1h-1zM125 443h1v1h-1zM126 444h1v2h-1zM127 446h2v1h-2zM129 447h2v1h-2zM131 448h2v1h-2zM133 449h3v1h-3zM136 450h4v1h-4zM140 451h3v1h-3zM143 452h2v1h-2zM145 453h2v1h-2zM147 454h2v1h-2zM149 455h4v1h-4zM153 456h2v1h-2zM155 457h2v1h-2zM157 458h2v1h-2zM159 459h1v1h-1zM160 460h1v2h-1zM161 462h1v1h-1zM162 463h1v1h-1zM163 464h1v2h-1zM164 466h1v1h-1zM165 467h1v1h-1zM166 468h1v1h-1zM167 469h1v2h-1zM168 471h1v1h-1zM169 472h1v1h-1zM170 473h1v1h-1zM171 474h1v1h-1zM172 475h1v1h-1zM173 476h1v2h-1zM174 478h1v1h-1zM175 479h1v1h-1zM176 480h1v1h-1zM177 481h1v1h-1zM178 482h1v2h-1zM179 484h1v1h-1zM180 485h1v1h-1zM181 486h2v1h-2zM183 487h3v1h-3zM186 488h12v1h-12zM198 487h2v1h-2zM200 486h3v1h-3zM203 485h2v1h-2zM205 484h2v1h-2zM207 483h4v1h-4zM211 482h4v1h-4zM215 481h2v1h-2zM217 480h2v1h-2zM219 479h2v1h-2zM221 478h2v1h-2zM223 477h2v1h-2zM225 476h1v1h-1zM226 475h2v1h-2zM228 474h2v1h-2zM230 473h1v1h-1zM231 472h2v1h-2zM233 471h2v1h-2zM235 470h1v1h-1zM236 469h2v1h-2zM238 468h2v1h-2zM240 467h1v1h-1zM241 466h2v1h-2zM243 465h2v1h-2zM245 464h1v1h-1zM246 462h1v2h-1zM247 461h1v1h-1zM248 460h2v1h-2zM250 459h2v1h-2zM252 458h2v1h-2zM254 457h2v1h-2zM256 458h1v1h-1zM257 459h1v1h-1zM258 460h1v1h-1zM259 461h1v1h-1zM260 462h1v2h-1zM261 464h1v2h-1zM262 466h1v3h-1zM263 469h1v2h-1zM264 471h1v3h-1zM265 474h1v2h-1zM266 476h1v3h-1zM267 479h1v2h-1zM268 481h1v2h-1zM269 483h1v2h-1zM270 485h1v2h-1zM271 487h1v2h-1zM272 489h1v1h-1zM273 490h1v2h-1zM274 492h1v1h-1zM275 493h1v2h-1zM276 495h1v2h-1zM277 497h1v1h-1zM278 498h1v2h-1zM279 500h2v1h-2zM281 501h2v1h-2zM283 502h2v1h-2zM285 503h2v1h-2zM287 502h4v1h-4zM291 501h3v1h-3zM294 500h2v1h-2zM296 499h1v1h-1zM297 498h1v1h-1zM298 497h1v1h-1zM299 495h1v2h-1zM300 494h1v1h-1zM301 493h1v1h-1zM302 492h1v1h-1zM303 491h1v1h-1zM304 490h1v1h-1zM305 489h1v1h-1zM306 488h1v1h-1zM307 487h2v1h-2zM309 486h1v1h-1zM310 485h1v1h-1zM311 484h1v1h-1zM312 482h1v2h-1zM313 478h1v4h-1zM314 475h1v3h-1zM315 472h1v3h-1zM316 468h1v4h-1zM317 465h1v3h-1zM318 462h1v3h-1zM319 460h1v2h-1zM320 458h1v2h-1zM321 456h1v2h-1zM322 454h1v2h-1zM323 452h1v2h-1zM324 450h1v2h-1zM325 448h1v2h-1zM326 446h1v2h-1zM327 444h1v2h-1zM328 442h1v2h-1zM329 441h1v1h-1zM330 439h1v2h-1zM331 438h1v1h-1zM332 436h1v2h-1zM333 435h1v1h-1zM334 433h1v2h-1zM335 432h1v1h-1zM336 431h2v1h-2zM338 430h1v1h-1zM339 429h1v1h-1zM340 428h2v1h-2zM342 427h1v1h-1zM343 426h1v1h-1zM344 425h1v1h-1zM345 424h1v1h-1zM346 423h1v1h-1zM347 421h1v2h-1zM348 419h1v2h-1zM349 417h1v2h-1zM350 415h1v2h-1zM351 413h1v2h-1zM352 411h1v2h-1zM353 409h1v2h-1zM354 407h1v2h-1zM355 405h1v2h-1zM356 403h1v2h-1zM357 402h1v1h-1zM358 400h1v2h-1zM359 398h1v2h-1zM360 396h1v2h-1zM361 395h1v1h-1zM362 394h1v1h-1zM363 393h1v1h-1zM364 392h1v1h-1zM365 391h1v1h-1zM366 390h1v1h-1zM367 389h2v1h-2zM369 388h2v1h-2zM371 387h3v1h-3zM374 388h2v1h-2zM376 389h2v1h-2zM378 390h1v2h-1zM379 392h1v2h-1zM380 394h1v2h-1zM381 396h1v2h-1zM382 398h1v2h-1zM383 400h1v2h-1zM384 402h1v2h-1zM385 404h1v3h-1zM386 407h1v2h-1zM387 409h1v2h-1zM388 411h1v2h-1zM389 413h1v2h-1zM390 415h1v2h-1zM391 417h1v2h-1zM392 419h1v1h-1zM393 420h1v2h-1zM394 422h1v2h-1zM395 424h1v1h-1zM396 425h1v1h-1zM397 426h1v2h-1zM398 428h1v1h-1zM399 429h1v1h-1zM400 430h1v2h-1zM401 432h1v1h-1zM402 433h1v1h-1zM403 434h2v1h-2zM405 435h2v1h-2zM407 436h1v1h-1zM408 437h2v1h-2zM410 438h2v1h-2zM412 439h2v1h-2zM414 440h4v1h-4zM418 441h16v1h-16zM434 442h11v1h-11zM445 443h2v1h-2zM447 444h1v1h-1zM448 445h1v1h-1zM449 446h2v1h-2zM451 447h1v1h-1zM452 448h2v1h-2zM454 449h1v1h-1zM455 450h2v1h-2zM457 451h1v1h-1zM458 450h1v1h-1zM459 449h1v1h-1zM460 448h1v1h-1zM461 447h1v1h-1zM462 446h1v1h-1zM463 445h1v1h-1zM464 444h1v1h-1zM465 443h1v1h-1zM466 441h1v2h-1zM467 440h1v1h-1zM468 439h1v1h-1zM469 437h1v2h-1zM470 436h1v1h-1zM471 435h4v1h-4zM475 434h3v1h-3zM478 432h1v2h-1zM479 430h1v2h-1zM480 428h1v2h-1zM481 426h1v2h-1zM482 424h1v2h-1zM483 423h1v1h-1zM484 422h1v1h-1zM485 421h1v1h-1zM486 420h1v1h-1zM487 418h1v2h-1zM488 417h1v1h-1zM489 416h1v1h-1zM490 415h1v1h-1zM491 414h1v1h-1zM492 413h1v1h-1zM493 412h1v1h-1zM494 411h1v1h-1zM495 410h1v1h-1zM496 409h1v1h-1zM497 408h1v1h-1zM498 407h1v1h-1zM499 406h1v1h-1zM500 405h1v1h-1zM501 404h1v1h-1zM502 403h1v1h-1zM503 402h5v1h-5zM508 401h5v1h-5zM513 402h4v1h-4zM517 403h5v1h-5zM522 404h19v1h-19zM541 403h5v1h-5zM546 402h1v1h-1zM547 401h1v1h-1zM548 400h1v1h-1zM549 399h1v1h-1zM550 398h1v1h-1zM551 397h1v1h-1zM552 396h3v1h-3zM555 395h3v1h-3zM558 394h1v1h-1zM559 393h1v1h-1zM560 392h1v1h-1zM561 391h1v1h-1zM562 390h3v1h-3zM565 389h3v1h-3zM568 390h2v1h-2zM570 391h2v1h-2zM572 392h1v1h-1zM573 393h1v1h-1zM574 394h2v1h-2zM576 395h1v1h-1zM577 396h1v1h-1zM578 397h1v1h-1zM579 398h1v2h-1zM580 400h1v2h-1zM581 402h1v1h-1zM582 403h1v2h-1zM583 405h1v2h-1zM584 407h1v1h-1zM585 408h1v1h-1zM586 409h1v1h-1zM587 410h2v1h-2zM589 411h1v1h-1zM590 412h1v1h-1zM591 413h1v1h-1zM592 414h1v1h-1zM593 415h2v1h-2zM595 416h2v1h-2zM597 417h2v1h-2zM599 418h3v1h-3zM602 419h5v1h-5zM607 420h4v1h-4zM611 419h2v1h-2zM613 418h2v1h-2zM615 417h10v1h-10zM625 416h2v1h-2zM627 415h2v1h-2zM629 414h2v1h-2zM631 413h1v1h-1zM632 412h2v1h-2zM634 411h2v1h-2zM636 410h2v1h-2zM638 409h1v1h-1zM639 408h2v1h-2zM641 407h2v1h-2zM643 406h1v1h-1zM644 405h2v1h-2zM646 404h2v1h-2zM648 403h1v1h-1zM649 402h1v1h-1zM650 401h1v1h-1zM651 400h1v1h-1zM652 399h1v1h-1zM653 398h1v1h-1zM654 397h1v1h-1zM655 396h5v1h-5zM660 397h7v1h-7zM667 398h5v1h-5zM672 399h4v1h-4zM676 400h3v1h-3zM679 401h3v1h-3zM682 402h2v1h-2zM684 403h1v2h-1zM685 405h1v1h-1zM686 406h1v2h-1zM687 408h1v2h-1zM688 410h1v1h-1zM689 411h1v2h-1zM690 413h1v1h-1zM691 414h2v1h-2zM693 415h2v1h-2zM695 416h2v1h-2zM697 417h1v1h-1zM698 418h1v1h-1zM699 419h1v1h-1zM700 420h1v1h-1zM701 421h1v1h-1zM702 422h1v1h-1zM703 423h1v1h-1zM704 424h1v1h-1zM705 425h1v1h-1zM706 426h1v1h-1zM707 427h1v1h-1zM708 428h1v2h-1zM709 430h1v1h-1zM710 431h1v1h-1zM711 432h1v1h-1zM712 433h1v1h-1zM713 434h1v2h-1zM714 436h1v1h-1zM715 437h1v2h-1zM716 439h1v2h-1zM717 441h1v1h-1zM718 442h1v2h-1zM719 444h1v1h-1zM720 445h1v1h-1zM721 446h1v1h-1zM722 447h2v1h-2zM724 448h1v1h-1zM725 449h1v1h-1zM726 450h2v1h-2zM728 451h3v1h-3zM731 452h3v1h-3zM734 453h2v1h-2zM736 454h1v1h-1zM737 455h1v1h-1zM738 456h1v1h-1zM739 457h1v1h-1zM740 458h1v1h-1zM741 459h1v1h-1zM742 460h1v1h-1zM743 461h1v1h-1zM744 462h4v1h-4zM748 461h5v1h-5zM753 462h3v1h-3zM756 463h2v1h-2zM758 464h2v1h-2zM760 465h1v1h-1zM761 466h1v1h-1zM762 467h2v1h-2zM764 468h1v1h-1zM765 469h1v1h-1zM766 470h4v1h-4zM770 471h6v1h-6zM776 470h4v1h-4zM780 469h9v1h-9zM788 470h1v1h-1zM789 471h1v2h-1zM790 473h1v2h-1zM791 475h1v2h-1zM792 477h1v2h-1zM793 479h1v2h-1zM794 481h1v2h-1zM795 483h1v2h-1zM796 485h1v2h-1zM797 487h1v2h-1zM798 489h1v2h-1zM799 491h1v2h-1zM800 493h1v2h-1zM801 495h1v2h-1zM802 497h1v2h-1zM803 499h1v2h-1zM804 501h1v3h-1zM805 504h1v2h-1zM806 506h1v2h-1zM807 508h1v2h-1zM808 510h1v2h-1zM809 512h1v1h-1zM810 513h1v1h-1zM811 514h1v2h-1zM812 516h1v1h-1zM813 517h1v1h-1zM814 518h5v1h-5zM819 519h4v1h-4zM823 520h1v2h-1zM824 522h1v2h-1zM825 524h1v2h-1zM826 526h1v1h-1zM827 527h1v2h-1zM828 529h1v2h-1zM829 531h1v2h-1zM830 533h1v3h-1zM831 536h1v2h-1zM832 538h1v3h-1zM833 541h1v3h-1zM834 544h1v2h-1zM835 546h1v2h-1zM836 548h1v1h-1zM837 549h1v2h-1zM838 551h1v1h-1zM839 552h1v1h-1zM840 553h1v1h-1zM841 552h2v1h-2zM843 551h2v1h-2zM845 550h2v1h-2zM847 548h1v2h-1zM848 546h1v2h-1zM849 544h1v2h-1zM850 542h1v2h-1zM851 540h1v2h-1zM852 538h1v2h-1zM853 536h1v2h-1zM854 535h1v1h-1zM855 533h1v2h-1zM856 532h1v1h-1zM857 530h1v2h-1zM858 529h1v1h-1zM859 527h1v2h-1zM860 526h1v1h-1zM861 524h1v2h-1zM862 522h1v2h-1zM863 520h1v2h-1zM864 517h1v3h-1zM865 515h1v2h-1zM866 513h1v2h-1zM867 510h1v3h-1zM868 508h1v2h-1zM869 505h1v3h-1zM870 501h1v4h-1zM871 498h1v3h-1zM872 495h1v3h-1zM873 491h1v4h-1zM874 487h1v4h-1zM875 483h1v4h-1zM876 478h1v5h-1zM877 474h1v4h-1zM878 469h1v5h-1zM879 464h1v5h-1zM880 460h1v4h-1zM881 456h1v4h-1zM882 454h1v2h-1zM883 452h1v2h-1zM884 450h1v2h-1zM885 448h1v2h-1zM886 446h1v2h-1zM887 444h1v2h-1zM888 442h1v2h-1zM889 441h1v1h-1zM890 439h1v2h-1zM891 438h2v1h-2zM893 437h2v1h-2zM895 436h2v1h-2zM897 435h2v1h-2zM899 434h4v1h-4zM903 433h2v1h-2zM905 434h2v1h-2zM907 435h2v1h-2zM909 436h2v1h-2zM911 437h1v1h-1zM912 438h1v1h-1zM913 439h1v2h-1zM914 441h1v1h-1zM915 442h3v1h-3zM918 443h2v1h-2zM920 442h1v1h-1zM921 440h1v2h-1zM922 439h1v1h-1zM923 438h2v1h-2zM925 437h2v1h-2zM927 436h2v1h-2zM929 435h3v1h-3zM932 434h3v1h-3zM935 433h3v1h-3zM938 434h3v1h-3zM941 435h3v1h-3zM944 436h4v1h-4zM948 437h2v1h-2zM949 438h1v1h-1zM950 439h1v4h-1zM951 443h1v4h-1zM952 447h1v2h-1zM953 449h1v2h-1zM954 451h1v2h-1zM955 453h1v2h-1zM956 455h1v2h-1zM957 457h1v1h-1zM958 458h1v1h-1zM959 459h1v1h-1zM960 460h2v1h-2zM962 461h1v1h-1zM963 462h1v1h-1zM964 463h2v1h-2zM966 464h2v1h-2zM968 465h2v1h-2zM970 466h2v1h-2zM972 467h5v1h-5zM977 466h5v1h-5zM982 465h3v1h-3zM985 464h2v1h-2zM987 463h2v1h-2z"/>
<rect x="3" y="447" width="1" height="13" fill="#00008b"/>
<rect x="7" y="447" width="1" height="10" fill="#00008b"/>
<rect x="11" y="447" width="1" height="7" fill="#00008b"/>
<rect x="15" y="447" width="1" height="6" fill="#00008b"/>
<rect x="19" y="447" width="1" height="4" fill="#00008b"/>
<rect x="23" y="447" width="1" height="4" fill="#00008b"/>
<rect x="27" y="447" width="1" height="3" fill="#00008b"/>
<rect x="31" y="447" width="1" height="3" fill="#00008b"/>
<rect x="35" y="447" width="1" height="1" fill="#00008b"/>
<rect x="39" y="445" width="1" height="3" fill="#00008b"/>
<rect x="43" y="443" width="1" height="5" fill="#00008b"/>
<rect x="47" y="442" width="1" height="6" fill="#00008b"/>
<rect x="51" y="440" width="1" height="8" fill="#00008b"/>
<rect x="55" y="439" width="1" height="9" fill="#00008b"/>
<rect x="59" y="438" width="1" height="10" fill="#00008b"/>
<rect x="63" y="438" width="1" height="10" fill="#00008b"/>
<rect x="67" y="436" width="1" height="12" fill="#00008b"/>
<rect x="71" y="429" width="1" height="19" fill="#00008b"/>
<rect x="75" y="423" width="1" height="25" fill="#00008b"/>
<rect x="79" y="418" width="1" height="30" fill="#00008b"/>
<rect x="83" y="413" width="1" height="35" fill="#00008b"/>
<rect x="87" y="410" width="1" height="38" fill="#00008b"/>
<rect x="91" y="408" width="1" height="40" fill="#00008b"/>
<rect x="95" y="410" width="1" height="38" fill="#00008b"/>
<rect x="99" y="417" width="1" height="31" fill="#00008b"/>
<rect x="103" y="424" width="1" height="24" fill="#00008b"/>
<rect x="107" y="431" width="1" height="17" fill="#00008b"/>
<rect x="111" y="437" width="1" height="11" fill="#00008b"/>
<rect x="115" y="438" width="1" height="10" fill="#00008b"/>
<rect x="119" y="439" width="1" height="9" fill="#00008b"/>
<rect x="123" y="441" width="1" height="7" fill="#00008b"/>
<rect x="127" y="446" width="1" height="2" fill="#00008b"/>
<rect x="131" y="447" width="1" height="2" fill="#00008b"/>
<rect x="135" y="447" width="1" height="3" fill="#00008b"/>
<rect x="139" y="447" width="1" height="4" fill="#00008b"/>
<rect x="143" y="447" width="1" height="6" fill="#00008b"/>
<rect x="147" y="447" width="1" height="8" fill="#00008b"/>
<rect x="151" y="447" width="1" height="9" fill="#00008b"/>
<rect x="155" y="447" width="1" height="11" fill="#00008b"/>
<rect x="159" y="447" width="1" height="14" fill="#00008b"/>
<rect x="163" y="447" width="1" height="19" fill="#00008b"/>
<rect x="167" y="447" width="1" height="24" fill="#00008b"/>
<rect x="171" y="447" width="1" height="28" fill="#00008b"/>
<rect x="175" y="447" width="1" height="33" fill="#00008b"/>
<rect x="179" y="447" width="1" height="38" fill="#00008b"/>
<rect x="183" y="447" width="1" height="41" fill="#00008b"/>
<rect x="187" y="447" width="1" height="42" fill="#00008b"/>
<rect x="191" y="447" width="1" height="42" fill="#00008b"/>
<rect x="195" y="447" width="1" height="42" fill="#00008b"/>
<rect x="199" y="447" width="1" height="40" fill="#00008b"/>
<rect x="203" y="447" width="1" height="39" fill="#00008b"/>
<rect x="207" y="447" width="1" height="37" fill="#00008b"/>
<rect x="211" y="447" width="1" height="36" fill="#00008b"/>
<rect x="215" y="447" width="1" height="35" fill="#00008b"/>
<rect x="219" y="447" width="1" height="33" fill="#00008b"/>
<rect x="223" y="447" width="1" height="31" fill="#00008b"/>
<rect x="227" y="447" width="1" height="29" fill="#00008b"/>
<rect x="231" y="447" width="1" height="26" fill="#00008b"/>
<rect x="235" y="447" width="1" height="24" fill="#00008b"/>
<rect x="239" y="447" width="1" height="21" fill="#00008b"/>
<rect x="243" y="447" width="1" height="19" fill="#00008b"/>
<rect x="247" y="447" width="1" height="14" fill="#00008b"/>
<rect x="251" y="447" width="1" height="12" fill="#00008b"/>
<rect x="255" y="447" width="1" height="11" fill="#00008b"/>
<rect x="259" y="447" width="1" height="15" fill="#00008b"/>
<rect x="263" y="447" width="1" height="24" fill="#00008b"/>
<rect x="267" y="447" width="1" height="33" fill="#00008b"/>
<rect x="271" y="447" width="1" height="41" fill="#00008b"/>
<rect x="275" y="447" width="1" height="48" fill="#00008b"/>
<rect x="279" y="447" width="1" height="54" fill="#00008b"/>
<rect x="283" y="447" width="1" height="56" fill="#00008b"/>
<rect x="287" y="447" width="1" height="56" fill="#00008b"/>
<rect x="291" y="447" width="1" height="55" fill="#00008b"/>
<rect x="295" y="447" width="1" height="53" fill="#00008b"/>
<rect x="299" y="447" width="1" height="49" fill="#00008b"/>
<rect x="303" y="447" width="1" height="45" fill="#00008b"/>
<rect x="307" y="447" width="1" height="41" fill="#00008b"/>
<rect x="311" y="447" width="1" height="37" fill="#00008b"/>
<rect x="315" y="447" width="1" height="25" fill="#00008b"/>
<rect x="319" y="447" width="1" height="14" fill="#00008b"/>
<rect x="323" y="447" width="1" height="5" fill="#00008b"/>
<rect x="327" y="444" width="1" height="4" fill="#00008b"/>
<rect x="331" y="437" width="1" height="11" fill="#00008b"/>
<rect x="335" y="432" width="1" height="16" fill="#00008b"/>
<rect x="339" y="429" width="1" height="19" fill="#00008b"/>
<rect x="343" y="426" width="1" height="22" fill="#00008b"/>
<rect x="347" y="421" width="1" height="27" fill="#00008b"/>
<rect x="351" y="413" width="1" height="35" fill="#00008b"/>
<rect x="355" y="405" width="1" height="43" fill="#00008b"/>
<rect x="359" y="397" width="1" height="51" fill="#00008b"/>
<rect x="363" y="392" width="1" height="56" fill="#00008b"/>
<rect x="367" y="388" width="1" height="60" fill="#00008b"/>
<rect x="371" y="387" width="1" height="61" fill="#00008b"/>
<rect x="375" y="388" width="1" height="60" fill="#00008b"/>
<rect x="379" y="394" width="1" height="54" fill="#00008b"/>
<rect x="383" y="403" width="1" height="45" fill="#00008b"/>
<rect x="387" y="412" width="1" height="36" fill="#00008b"/>
<rect x="391" y="418" width="1" height="30" fill="#00008b"/>
<rect x="395" y="425" width="1" height="23" fill="#00008b"/>
<rect x="399" y="429" width="1" height="19" fill="#00008b"/>
<rect x="403" y="433" width="1" height="15" fill="#00008b"/>
<rect x="407" y="436" width="1" height="12" fill="#00008b"/>
<rect x="411" y="438" width="1" height="10" fill="#00008b"/>
<rect x="415" y="440" width="1" height="8" fill="#00008b"/>
<rect x="419" y="441" width="1" height="7" fill="#00008b"/>
<rect x="423" y="441" width="1" height="7" fill="#00008b"/>
<rect x="427" y="441" width="1" height="7" fill="#00008b"/>
<rect x="431" y="442" width="1" height="6" fill="#00008b"/>
<rect x="435" y="442" width="1" height="6" fill="#00008b"/>
<rect x="439" y="442" width="1" height="6" fill="#00008b"/>
<rect x="443" y="442" width="1" height="6" fill="#00008b"/>
<rect x="447" y="445" width="1" height="3" fill="#00008b"/>
<rect x="451" y="447" width="1" height="1" fill="#00008b"/>
<rect x="455" y="447" width="1" height="4" fill="#00008b"/>
<rect x="459" y="447" width="1" height="2" fill="#00008b"/>
<rect x="463" y="444" width="1" height="4" fill="#00008b"/>
<rect x="467" y="439" width="1" height="9" fill="#00008b"/>
<rect x="471" y="435" width="1" height="13" fill="#00008b"/>
<rect x="475" y="434" width="1" height="14" fill="#00008b"/>
<rect x="479" y="429" width="1" height="19" fill="#00008b"/>
<rect x="483" y="422" width="1" height="26" fill="#00008b"/>
<rect x="487" y="418" width="1" height="30" fill="#00008b"/>
<rect x="491" y="413" width="1" height="35" fill="#00008b"/>
<rect x="495" y="410" width="1" height="38" fill="#00008b"/>
<rect x="499" y="406" width="1" height="42" fill="#00008b"/>
<rect x="503" y="402" width="1" height="46" fill="#00008b"/>
<rect x="507" y="401" width="1" height="47" fill="#00008b"/>
<rect x="511" y="401" width="1" height="47" fill="#00008b"/>
<rect x="515" y="402" width="1" height="46" fill="#00008b"/>
<rect x="519" y="403" width="1" height="45" fill="#00008b"/>
<rect x="523" y="404" width="1" height="44" fill="#00008b"/>
<rect x="527" y="404" width="1" height="44" fill="#00008b"/>
<rect x="531" y="404" width="1" height="44" fill="#00008b"/>
<rect x="535" y="404" width="1" height="44" fill="#00008b"/>
<rect x="539" y="404" width="1" height="44" fill="#00008b"/>
<rect x="543" y="403" width="1" height="45" fill="#00008b"/>
<rect x="547" y="401" width="1" height="47" fill="#00008b"/>
<rect x="551" y="397" width="1" height="51" fill="#00008b"/>
<rect x="555" y="395" width="1" height="53" fill="#00008b"/>
<rect x="559" y="393" width="1" height="55" fill="#00008b"/>
<rect x="563" y="389" width="1" height="59" fill="#00008b"/>
<rect x="567" y="389" width="1" height="59" fill="#00008b"/>
<rect x="571" y="391" width="1" height="57" fill="#00008b"/>
<rect x="575" y="395" width="1" height="53" fill="#00008b"/>
<rect x="579" y="399" width="1" height="49" fill="#00008b"/>
<rect x="583" y="406" width="1" height="42" fill="#00008b"/>
<rect x="587" y="410" width="1" height="38" fill="#00008b"/>
<rect x="591" y="414" width="1" height="34" fill="#00008b"/>
<rect x="595" y="416" width="1" height="32" fill="#00008b"/>
<rect x="599" y="418" width="1" height="30" fill="#00008b"/>
<rect x="603" y="419" width="1" height="29" fill="#00008b"/>
<rect x="607" y="420" width="1" height="28" fill="#00008b"/>
<rect x="611" y="419" width="1" height="29" fill="#00008b"/>
<rect x="615" y="417" width="1" height="31" fill="#00008b"/>
<rect x="619" y="417" width="1" height="31" fill="#00008b"/>
<rect x="623" y="417" width="1" height="31" fill="#00008b"/>
<rect x="627" y="415" width="1" height="33" fill="#00008b"/>
<rect x="631" y="413" width="1" height="35" fill="#00008b"/>
<rect x="635" y="410" width="1" height="38" fill="#00008b"/>
<rect x="639" y="408" width="1" height="40" fill="#00008b"/>
<rect x="643" y="406" width="1" height="42" fill="#00008b"/>
<rect x="647" y="403" width="1" height="45" fill="#00008b"/>
<rect x="651" y="400" width="1" height="48" fill="#00008b"/>
<rect x="655" y="396" width="1" height="52" fill="#00008b"/>
<rect x="659" y="397" width="1" height="51" fill="#00008b"/>
<rect x="663" y="397" width="1" height="51" fill="#00008b"/>
<rect x="667" y="398" width="1" height="50" fill="#00008b"/>
<rect x="671" y="399" width="1" height="49" fill="#00008b"/>
<rect x="675" y="399" width="1" height="49" fill="#00008b"/>
<rect x="679" y="400" width="1" height="48" fill="#00008b"/>
<rect x="683" y="402" width="1" height="46" fill="#00008b"/>
<rect x="687" y="409" width="1" height="39" fill="#00008b"/>
<rect x="691" y="414" width="1" height="34" fill="#00008b"/>
<rect x="695" y="416" width="1" height="32" fill="#00008b"/>
<rect x="699" y="419" width="1" height="29" fill="#00008b"/>
<rect x="703" y="423" width="1" height="25" fill="#00008b"/>
<rect x="707" y="428" width="1" height="20" fill="#00008b"/>
<rect x="711" y="433" width="1" height="15" fill="#00008b"/>
<rect x="715" y="439" width="1" height="9" fill="#00008b"/>
<rect x="719" y="444" width="1" height="4" fill="#00008b"/>
<rect x="723" y="447" width="1" height="2" fill="#00008b"/>
<rect x="727" y="447" width="1" height="4" fill="#00008b"/>
<rect x="731" y="447" width="1" height="6" fill="#00008b"/>
<rect x="735" y="447" width="1" height="8" fill="#00008b"/>
<rect x="739" y="447" width="1" height="12" fill="#00008b"/>
<rect x="743" y="447" width="1" height="16" fill="#00008b"/>
<rect x="747" y="447" width="1" height="16" fill="#00008b"/>
<rect x="751" y="447" width="1" height="15" fill="#00008b"/>
<rect x="755" y="447" width="1" height="17" fill="#00008b"/>
<rect x="759" y="447" width="1" height="19" fill="#00008b"/>
<rect x="763" y="447" width="1" height="22" fill="#00008b"/>
<rect x="767" y="447" width="1" height="24" fill="#00008b"/>
<rect x="771" y="447" width="1" height="25" fill="#00008b"/>
<rect x="775" y="447" width="1" height="24" fill="#00008b"/>
<rect x="779" y="447" width="1" height="23" fill="#00008b"/>
<rect x="783" y="447" width="1" height="23" fill="#00008b"/>
<rect x="787" y="447" width="1" height="23" fill="#00008b"/>
<rect x="791" y="447" width="1" height="31" fill="#00008b"/>
<rect x="795" y="447" width="1" height="39" fill="#00008b"/>
<rect x="799" y="447" width="1" height="46" fill="#00008b"/>
<rect x="803" y="447" width="1" height="55" fill="#00008b"/>
<rect x="807" y="447" width="1" height="64" fill="#00008b"/>
<rect x="811" y="447" width="1" height="69" fill="#00008b"/>
<rect x="815" y="447" width="1" height="72" fill="#00008b"/>
<rect x="819" y="447" width="1" height="73" fill="#00008b"/>
<rect x="823" y="447" width="1" height="75" fill="#00008b"/>
<rect x="827" y="447" width="1" height="83" fill="#00008b"/>
<rect x="831" y="447" width="1" height="93" fill="#00008b"/>
<rect x="835" y="447" width="1" height="102" fill="#00008b"/>
<rect x="839" y="447" width="1" height="107" fill="#00008b"/>
<rect x="843" y="447" width="1" height="105" fill="#00008b"/>
<rect x="847" y="447" width="1" height="101" fill="#00008b"/>
<rect x="851" y="447" width="1" height="94" fill="#00008b"/>
<rect x="855" y="447" width="1" height="87" fill="#00008b"/>
<rect x="859" y="447" width="1" height="80" fill="#00008b"/>
<rect x="863" y="447" width="1" height="72" fill="#00008b"/>
<rect x="867" y="447" width="1" height="63" fill="#00008b"/>
<rect x="871" y="447" width="1" height="51" fill="#00008b"/>
<rect x="875" y="447" width="1" height="35" fill="#00008b"/>
<rect x="879" y="447" width="1" height="17" fill="#00008b"/>
<rect x="883" y="447" width="1" height="6" fill="#00008b"/>
<rect x="887" y="443" width="1" height="5" fill="#00008b"/>
<rect x="891" y="437" width="1" height="11" fill="#00008b"/>
<rect x="895" y="435" width="1" height="13" fill="#00008b"/>
<rect x="899" y="434" width="1" height="14" fill="#00008b"/>
<rect x="903" y="434" width="1" height="14" fill="#00008b"/>
<rect x="907" y="435" width="1" height="13" fill="#00008b"/>
<rect x="911" y="438" width="1" height="10" fill="#00008b"/>
<rect x="915" y="442" width="1" height="6" fill="#00008b"/>
<rect x="919" y="442" width="1" height="6" fill="#00008b"/>
<rect x="923" y="437" width="1" height="11" fill="#00008b"/>
<rect x="927" y="436" width="1" height="12" fill="#00008b"/>
<rect x="931" y="435" width="1" height="13" fill="#00008b"/>
<rect x="935" y="434" width="1" height="14" fill="#00008b"/>
<rect x="939" y="434" width="1" height="14" fill="#00008b"/>
<rect x="943" y="436" width="1" height="12" fill="#00008b"/>
<rect x="947" y="437" width="1" height="11" fill="#00008b"/>
<rect x="951" y="446" width="1" height="2" fill="#00008b"/>
<rect x="955" y="447" width="1" height="8" fill="#00008b"/>
<rect x="959" y="447" width="1" height="13" fill="#00008b"/>
<rect x="963" y="447" width="1" height="16" fill="#00008b"/>
<rect x="967" y="447" width="1" height="18" fill="#00008b"/>
<rect x="971" y="447" width="1" height="20" fill="#00008b"/>
<rect x="975" y="447" width="1" height="20" fill="#00008b"/>
<rect x="979" y="447" width="1" height="20" fill="#00008b"/>
<rect x="983" y="447" width="1" height="19" fill="#00008b"/>
<rect x="987" y="447" width="1" height="17" fill="#00008b"/>
<path fill="#000" d="M4 461h5v1h-5zM9 460h5v1h-5zM14 459h3v1h-3zM17 458h3v1h-3zM20 457h3v1h-3zM23 456h3v1h-3zM26 455h2v1h-2zM28 454h3v1h-3zM31 453h3v1h-3zM34 452h2v1h-2zM36 451h3v1h-3zM39 450h2v1h-2zM41 449h2v1h-2zM43 448h3v1h-3zM46 447h3v1h-3zM49 446h3v1h-3zM52 445h3v1h-3zM55 444h3v1h-3zM58 443h3v1h-3zM61 442h3v1h-3zM64 441h3v1h-3zM67 440h3v1h-3zM70 439h2v1h-2zM72 438h2v1h-2zM74 437h1v1h-1zM75 436h2v1h-2zM77 435h1v1h-1zM78 434h2v1h-2zM80 433h1v1h-1zM81 432h2v1h-2zM83 431h1v1h-1zM84 430h1v1h-1zM85 429h1v1h-1zM86 428h1v1h-1zM87 427h2v1h-2zM89 426h1v1h-1zM90 425h1v1h-1zM91 424h1v1h-1zM92 423h1v1h-1zM93 422h1v1h-1zM94 421h2v1h-2zM96 420h2v1h-2zM98 419h2v1h-2zM100 418h4v1h-4zM104 417h5v1h-5zM109 418h3v1h-3zM112 419h2v1h-2zM114 420h1v1h-1zM115 421h2v1h-2zM117 422h1v1h-1zM118 423h1v1h-1zM119 424h2v1h-2zM121 425h1v1h-1zM122 426h1v1h-1zM123 427h1v1h-1zM124 428h1v1h-1zM125 429h1v1h-1zM126 430h2v1h-2zM128 431h1v1h-1zM129 432h1v1h-1zM130 433h1v1h-1zM131 434h1v1h-1zM132 435h1v1h-1zM133 436h1v1h-1zM134 437h1v1h-1zM135 438h1v1h-1zM136 439h2v1h-2zM138 440h1v1h-1zM139 441h1v1h-1zM140 442h1v1h-1zM141 443h1v1h-1zM142 444h2v1h-2zM144 445h2v1h-2zM146 446h3v1h-3zM149 447h2v1h-2zM151 448h2v1h-2zM153 449h2v1h-2zM155 450h2v1h-2zM157 451h1v1h-1zM158 452h2v1h-2zM160 453h2v1h-2zM162 454h1v1h-1zM163 455h2v1h-2zM165 456h2v1h-2zM167 457h2v1h-2zM169 458h1v1h-1zM170 459h2v1h-2zM172 460h2v1h-2zM174 461h1v1h-1zM175 462h1v1h-1zM176 463h1v1h-1zM177 464h1v1h-1zM178 465h1v1h-1zM179 466h1v1h-1zM180 467h1v1h-1zM181 468h1v1h-1zM182 469h1v1h-1zM183 470h1v1h-1zM184 471h1v1h-1zM185 472h2v1h-2zM187 473h1v1h-1zM188 474h2v1h-2zM190 475h1v1h-1zM191 476h1v1h-1zM192 477h2v1h-2zM194 478h1v1h-1zM195 479h2v1h-2zM197 480h1v1h-1zM198 481h2v1h-2zM200 482h1v1h-1zM201 483h2v1h-2zM203 484h3v1h-3zM206 485h5v1h-5zM211 486h5v1h-5zM216 485h5v1h-5zM221 484h4v1h-4zM225 483h3v1h-3zM228 482h3v1h-3zM231 481h3v1h-3zM234 480h2v1h-2zM236 479h2v1h-2zM238 478h1v1h-1zM239 477h2v1h-2zM241 476h1v1h-1zM242 475h1v1h-1zM243 474h2v1h-2zM245 473h1v1h-1zM246 472h2v1h-2zM248 471h1v1h-1zM249 470h2v1h-2zM251 469h1v1h-1zM252 468h1v1h-1zM253 467h2v1h-2zM255 466h5v1h-5zM260 465h6v1h-6zM266 466h4v1h-4zM270 467h2v1h-2zM272 468h1v1h-1zM273 469h1v1h-1zM274 470h1v1h-1zM275 471h1v1h-1zM276 472h1v1h-1zM277 473h1v1h-1zM278 474h1v1h-1zM279 475h1v1h-1zM280 476h1v1h-1zM281 477h1v2h-1zM282 479h1v1h-1zM283 480h1v1h-1zM284 481h1v2h-1zM285 483h1v1h-1zM286 484h1v1h-1zM287 485h1v2h-1zM288 487h1v1h-1zM289 488h1v1h-1zM290 489h2v1h-2zM292 490h1v1h-1zM293 491h1v1h-1zM294 492h2v1h-2zM296 493h1v1h-1zM297 494h2v1h-2zM299 495h4v1h-4zM303 496h3v1h-3zM306 497h3v1h-3zM309 496h3v1h-3zM312 495h2v1h-2zM314 494h1v1h-1zM315 493h1v1h-1zM316 491h1v2h-1zM317 490h1v1h-1zM318 489h1v1h-1zM319 488h1v1h-1zM320 487h1v1h-1zM321 485h1v2h-1zM322 484h1v1h-1zM323 482h1v2h-1zM324 480h1v2h-1zM325 479h1v1h-1zM326 477h1v2h-1zM327 476h1v1h-1zM328 474h1v2h-1zM329 473h1v1h-1zM330 471h1v2h-1zM331 469h1v2h-1zM332 468h1v1h-1zM333 466h1v2h-1zM334 464h1v2h-1zM335 462h1v2h-1zM336 461h1v1h-1zM337 459h1v2h-1zM338 457h1v2h-1zM339 455h1v2h-1zM340 453h1v2h-1zM341 451h1v2h-1zM342 449h1v2h-1zM343 447h1v2h-1zM344 445h1v2h-1zM345 443h1v2h-1zM346 442h1v1h-1zM347 440h1v2h-1zM348 438h1v2h-1zM349 436h1v2h-1zM350 434h1v2h-1zM351 432h1v2h-1zM352 430h1v2h-1zM353 429h1v1h-1zM354 427h1v2h-1zM355 426h1v1h-1zM356 424h1v2h-1zM357 423h1v1h-1zM358 421h1v2h-1zM359 420h1v1h-1zM360 418h1v2h-1zM361 417h1v1h-1zM362 415h1v2h-1zM363 414h1v1h-1zM364 413h1v1h-1zM365 412h1v1h-1zM366 411h1v1h-1zM367 410h1v1h-1zM368 408h1v2h-1zM369 407h1v1h-1zM370 406h1v1h-1zM371 405h1v1h-1zM372 404h1v1h-1zM373 403h1v1h-1zM374 402h2v1h-2zM376 401h1v1h-1zM377 400h2v1h-2zM379 399h1v1h-1zM380 398h2v1h-2zM382 397h8v1h-8zM390 398h2v1h-2zM392 399h1v1h-1zM393 400h2v1h-2zM395 401h1v1h-1zM396 402h1v1h-1zM397 403h1v1h-1zM398 404h1v2h-1zM399 406h1v1h-1zM400 407h1v1h-1zM401 408h1v1h-1zM402 409h1v1h-1zM403 410h1v1h-1zM404 411h1v2h-1zM405 413h1v1h-1zM406 414h1v1h-1zM407 415h1v2h-1zM408 417h1v1h-1zM409 418h1v1h-1zM410 419h1v2h-1zM411 421h1v1h-1zM412 422h1v1h-1zM413 423h1v1h-1zM414 424h1v1h-1zM415 425h1v1h-1zM416 426h1v1h-1zM417 427h1v1h-1zM418 428h1v1h-1zM419 429h1v1h-1zM420 430h1v1h-1zM421 431h1v1h-1zM422 432h2v1h-2zM424 433h2v1h-2zM426 434h2v1h-2zM428 435h2v1h-2zM430 436h2v1h-2zM432 437h2v1h-2zM434 438h2v1h-2zM436 439h3v1h-3zM439 440h3v1h-3zM442 441h3v1h-3zM445 442h4v1h-4zM449 443h4v1h-4zM453 444h4v1h-4zM457 445h13v1h-13zM470 444h4v1h-4zM474 443h3v1h-3zM477 442h3v1h-3zM480 441h2v1h-2zM482 440h2v1h-2zM484 439h2v1h-2zM486 438h2v1h-2zM488 437h1v1h-1zM489 436h1v1h-1zM490 435h1v1h-1zM491 433h1v2h-1zM492 432h1v1h-1zM493 431h1v1h-1zM494 430h1v1h-1zM495 428h1v2h-1zM496 427h1v1h-1zM497 425h1v2h-1zM498 424h1v1h-1zM499 422h1v2h-1zM500 421h1v1h-1zM501 420h1v1h-1zM502 418h1v2h-1zM503 417h1v1h-1zM504 416h1v1h-1zM505 415h1v1h-1zM506 414h1v1h-1zM507 413h2v1h-2zM509 412h1v1h-1zM510 411h1v1h-1zM511 410h1v1h-1zM512 409h1v1h-1zM513 408h2v1h-2zM515 407h2v1h-2zM517 406h3v1h-3zM520 405h2v1h-2zM522 404h26v1h-26zM548 403h4v1h-4zM552 402h4v1h-4zM556 401h3v1h-3zM559 400h2v1h-2zM561 399h3v1h-3zM564 398h2v1h-2zM566 397h3v1h-3zM569 396h2v1h-2zM571 395h3v1h-3zM574 394h2v1h-2zM576 393h5v1h-5zM581 394h4v1h-4zM585 395h2v1h-2zM587 396h1v1h-1zM588 397h2v1h-2zM590 398h1v1h-1zM591 399h1v1h-1zM592 400h2v1h-2zM594 401h1v1h-1zM595 402h1v1h-1zM596 403h2v1h-2zM598 404h1v1h-1zM599 405h1v1h-1zM600 406h1v1h-1zM601 407h2v1h-2zM603 408h1v1h-1zM604 409h1v1h-1zM605 410h2v1h-2zM607 411h1v1h-1zM608 412h2v1h-2zM610 413h1v1h-1zM611 414h1v1h-1zM612 415h2v1h-2zM614 416h2v1h-2zM616 417h3v1h-3zM619 418h3v1h-3zM622 419h7v1h-7zM629 418h6v1h-6zM635 417h2v1h-2zM637 416h3v1h-3zM640 415h2v1h-2zM642 414h2v1h-2zM644 413h2v1h-2zM646 412h2v1h-2zM648 411h2v1h-2zM650 410h1v1h-1zM651 409h2v1h-2zM653 408h2v1h-2zM655 407h2v1h-2zM657 406h2v1h-2zM659 405h2v1h-2zM661 404h2v1h-2zM663 403h2v1h-2zM665 402h2v1h-2zM667 401h3v1h-3zM670 400h5v1h-5zM675 399h7v1h-7zM682 398h5v1h-5zM687 399h2v1h-2zM689 400h2v1h-2zM691 401h2v1h-2zM693 402h2v1h-2zM695 403h2v1h-2zM697 404h2v1h-2zM699 405h1v1h-1zM700 406h2v1h-2zM702 407h2v1h-2zM704 408h1v1h-1zM705 409h1v1h-1zM706 410h1v1h-1zM707 411h1v1h-1zM708 412h1v1h-1zM709 413h1v1h-1zM710 414h1v1h-1zM711 415h1v1h-1zM712 416h1v1h-1zM713 417h1v1h-1zM714 418h1v1h-1zM715 419h1v1h-1zM716 420h1v1h-1zM717 421h1v1h-1zM718 422h1v1h-1zM719 423h1v1h-1zM720 424h1v1h-1zM721 425h1v1h-1zM722 426h1v2h-1zM723 428h1v1h-1zM724 429h1v1h-1zM725 430h1v1h-1zM726 431h1v1h-1zM727 432h1v1h-1zM728 433h1v1h-1zM729 434h1v1h-1zM730 435h1v1h-1zM731 436h1v1h-1zM732 437h1v1h-1zM733 438h1v1h-1zM734 439h1v1h-1zM735 440h1v1h-1zM736 441h1v1h-1zM737 442h1v1h-1zM738 443h1v1h-1zM739 444h1v1h-1zM740 445h1v1h-1zM741 446h1v1h-1zM742 447h1v1h-1zM743 448h1v1h-1zM744 449h1v1h-1zM745 450h1v1h-1zM746 451h2v1h-2zM748 452h1v1h-1zM749 453h1v1h-1zM750 454h1v1h-1zM751 455h2v1h-2zM753 456h1v1h-1zM754 457h2v1h-2zM756 458h2v1h-2zM758 459h2v1h-2zM760 460h2v1h-2zM762 461h2v1h-2zM764 462h2v1h-2zM766 463h2v1h-2zM768 464h3v1h-3zM771 465h3v1h-3zM774 466h3v1h-3zM777 467h7v1h-7zM784 468h6v1h-6zM790 469h3v1h-3zM793 470h3v1h-3zM796 471h2v1h-2zM798 472h1v1h-1zM799 473h1v1h-1zM800 474h1v1h-1zM801 475h1v2h-1zM802 477h1v1h-1zM803 478h1v1h-1zM804 479h1v1h-1zM805 480h1v1h-1zM806 481h1v1h-1zM807 482h1v2h-1zM808 484h1v1h-1zM809 485h1v1h-1zM810 486h1v2h-1zM811 488h1v1h-1zM812 489h1v1h-1zM813 490h1v2h-1zM814 492h1v1h-1zM815 493h1v1h-1zM816 494h1v2h-1zM817 496h1v1h-1zM818 497h1v2h-1zM819 499h1v1h-1zM820 500h1v2h-1zM821 502h1v1h-1zM822 503h1v2h-1zM823 505h1v1h-1zM824 506h1v2h-1zM825 508h1v1h-1zM826 509h1v2h-1zM827 511h1v1h-1zM828 512h1v2h-1zM829 514h1v1h-1zM830 515h1v2h-1zM831 517h1v1h-1zM832 518h1v2h-1zM833 520h1v1h-1zM834 521h1v2h-1zM835 523h1v1h-1zM836 524h1v1h-1zM837 525h1v2h-1zM838 527h1v1h-1zM839 528h1v1h-1zM840 529h1v1h-1zM841 530h1v1h-1zM842 531h1v2h-1zM843 533h1v1h-1zM844 534h1v1h-1zM845 535h2v1h-2zM847 536h2v1h-2zM849 537h1v1h-1zM850 538h2v1h-2zM852 539h2v1h-2zM854 540h4v1h-4zM858 541h5v1h-5zM863 540h3v1h-3zM866 539h1v1h-1zM867 538h1v1h-1zM868 536h1v2h-1zM869 535h1v1h-1zM870 534h1v1h-1zM871 533h1v1h-1zM872 531h1v2h-1zM873 530h1v1h-1zM874 528h1v2h-1zM875 526h1v2h-1zM876 525h1v1h-1zM877 523h1v2h-1zM878 521h1v2h-1zM879 518h1v3h-1zM880 516h1v2h-1zM881 513h1v3h-1zM882 510h1v3h-1zM883 508h1v2h-1zM884 505h1v3h-1zM885 502h1v3h-1zM886 499h1v3h-1zM887 495h1v4h-1zM888 492h1v3h-1zM889 489h1v3h-1zM890 486h1v3h-1zM891 483h1v3h-1zM892 480h1v3h-1zM893 477h1v3h-1zM894 474h1v3h-1zM895 471h1v3h-1zM896 468h1v3h-1zM897 465h1v3h-1zM898 462h1v3h-1zM899 460h1v2h-1zM900 458h1v2h-1zM901 456h1v2h-1zM902 454h1v2h-1zM903 452h1v2h-1zM904 450h1v2h-1zM905 448h1v2h-1zM906 447h1v1h-1zM907 446h1v1h-1zM908 445h1v1h-1zM909 443h1v2h-1zM910 442h1v1h-1zM911 441h1v1h-1zM912 440h2v1h-2zM914 439h3v1h-3zM917 438h2v1h-2zM919 437h8v1h-8zM927 436h22v1h-22zM949 437h5v1h-5zM954 438h2v1h-2zM956 439h2v1h-2zM958 440h2v1h-2zM960 441h1v1h-1zM961 442h1v1h-1zM962 443h1v1h-1zM963 444h1v1h-1zM964 445h1v1h-1zM965 446h1v1h-1zM966 447h1v1h-1zM967 448h1v1h-1zM968 449h1v1h-1zM969 450h1v1h-1zM970 451h1v1h-1zM971 452h2v1h-2zM973 453h1v1h-1zM974 454h1v1h-1zM975 455h1v1h-1zM976 456h1v1h-1zM977 457h1v1h-1zM978 458h2v1h-2zM980 459h1v1h-1zM981 460h1v1h-1zM982 461h2v1h-2zM984 462h1v1h-1zM985 463h1v1h-1z"/>
<rect x="2" y="2" width="998" height="1" fill="#000"/>
<rect x="2" y="375" width="998" height="1" fill="#000"/>
<rect x="2" y="377" width="998" height="1" fill="#000"/>
<rect x="2" y="562" width="999" height="1" fill="#000"/>
<rect x="2" y="2" width="1" height="374" fill="#000"/>
<rect x="2" y="377" width="1" height="186" fill="#000"/>
<rect x="999" y="2" width="1" height="374" fill="#000"/>
<rect x="999" y="377" width="1" height="186" fill="#000"/>
<rect x="1000" y="9" width="2" height="1" fill="#000"/>
<rect x="1000" y="42" width="2" height="1" fill="#000"/>
<rect x="1000" y="75" width="2" height="1" fill="#000"/>
<rect x="1000" y="141" width="2" height="1" fill="#000"/>
<rect x="1000" y="174" width="2" height="1" fill="#000"/>
<rect x="1000" y="207" width="2" height="1" fill="#000"/>
<rect x="1000" y="240" width="2" height="1" fill="#000"/>
<rect x="1000" y="273" width="2" height="1" fill="#000"/>
<rect x="1000" y="306" width="2" height="1" fill="#000"/>
<rect x="1000" y="339" width="2" height="1" fill="#000"/>
<rect x="1000" y="372" width="2" height="1" fill="#000"/>
<rect x="1000" y="447" width="2" height="1" fill="#000"/>
<rect x="1000" y="379" width="1" height="1" fill="#000"/>
<rect x="1000" y="561" width="1" height="1" fill="#000"/>
<rect x="3" y="563" width="1" height="3" fill="#000"/>
<rect x="67" y="563" width="1" height="3" fill="#000"/>
<rect x="131" y="563" width="1" height="3" fill="#000"/>
<rect x="195" y="563" width="1" height="3" fill="#000"/>
<rect x="259" y="563" width="1" height="3" fill="#000"/>
<rect x="323" y="563" width="1" height="3" fill="#000"/>
<rect x="387" y="563" width="1" height="3" fill="#000"/>
<rect x="451" y="563" width="1" height="3" fill="#000"/>
<rect x="515" y="563" width="1" height="3" fill="#000"/>
<rect x="579" y="563" width="1" height="3" fill="#000"/>
<rect x="643" y="563" width="1" height="3" fill="#000"/>
<rect x="707" y="563" width="1" height="3" fill="#000"/>
<rect x="771" y="563" width="1" height="3" fill="#000"/>
<rect x="835" y="563" width="1" height="3" fill="#000"/>
<rect x="899" y="563" width="1" height="3" fill="#000"/>
<rect x="963" y="563" width="1" height="3" fill="#000"/>
</g>
<text x="1005.1" y="13" font-size="10" textLength="32.8" lengthAdjust="spacingAndGlyphs" fill="#000" stroke="#000" stroke-width="0.25">1.36410</text>
<text x="1005.1" y="46" font-size="10" textLength="32.8" lengthAdjust="spacingAndGlyphs" fill="#000" stroke="#000" stroke-width="0.25">1.35940</text>
<text x="1005.1" y="79" font-size="10" textLength="32.8" lengthAdjust="spacingAndGlyphs" fill="#000" stroke="#000" stroke-width="0.25">1.35470</text>
<text x="1005.1" y="145" font-size="10" textLength="32.8" lengthAdjust="spacingAndGlyphs" fill="#000" stroke="#000" stroke-width="0.25">1.34530</text>
<text x="1005.1" y="178" font-size="10" textLength="32.8" lengthAdjust="spacingAndGlyphs" fill="#000" stroke="#000" stroke-width="0.25">1.34060</text>
<text x="1005.1" y="211" font-size="10" textLength="32.8" lengthAdjust="spacingAndGlyphs" fill="#000" stroke="#000" stroke-width="0.25">1.33590</text>
<text x="1005.1" y="244" font-size="10" textLength="32.8" lengthAdjust="spacingAndGlyphs" fill="#000" stroke="#000" stroke-width="0.25">1.33120</text>
<text x="1005.1" y="277" font-size="10" textLength="32.8" lengthAdjust="spacingAndGlyphs" fill="#000" stroke="#000" stroke-width="0.25">1.32650</text>
<text x="1005.1" y="310" font-size="10" textLength="32.8" lengthAdjust="spacingAndGlyphs" fill="#000" stroke="#000" stroke-width="0.25">1.32180</text>
<text x="1005.1" y="343" font-size="10" textLength="32.8" lengthAdjust="spacingAndGlyphs" fill="#000" stroke="#000" stroke-width="0.25">1.31710</text>
<text x="1005.1" y="376" font-size="10" textLength="32.8" lengthAdjust="spacingAndGlyphs" fill="#000" stroke="#000" stroke-width="0.25">1.31240</text>
<text x="1003.3" y="388" font-size="10" textLength="33.2" lengthAdjust="spacingAndGlyphs" fill="#000" stroke="#000" stroke-width="0.25">0.00448</text>
<text x="1003.3" y="451" font-size="10" textLength="18.5" lengthAdjust="spacingAndGlyphs" fill="#000" stroke="#000" stroke-width="0.25">0.00</text>
<text x="1003.3" y="559" font-size="10" textLength="40.6" lengthAdjust="spacingAndGlyphs" fill="#000" stroke="#000" stroke-width="0.25">-0.007483</text>
<rect x="1001" y="101" width="41" height="11" fill="#f00" shape-rendering="crispEdges"/>
<text x="1005.1" y="110" font-size="10" textLength="32.8" lengthAdjust="spacingAndGlyphs" fill="#fff" stroke="#fff" stroke-width="0.25">1.35014</text>
<rect x="1001" y="240" width="41" height="11" fill="#f00" shape-rendering="crispEdges"/>
<text x="1005.1" y="249" font-size="10" textLength="32.8" lengthAdjust="spacingAndGlyphs" fill="#fff" stroke="#fff" stroke-width="0.25">1.33041</text>
<rect x="1001" y="311" width="41" height="11" fill="#f00" shape-rendering="crispEdges"/>
<text x="1005.1" y="320" font-size="10" textLength="32.8" lengthAdjust="spacingAndGlyphs" fill="#fff" stroke="#fff" stroke-width="0.25">1.32033</text>
<rect x="1001" y="184" width="41" height="11" fill="#000" shape-rendering="crispEdges"/>
<text x="1005.1" y="193" font-size="10" textLength="32.8" lengthAdjust="spacingAndGlyphs" fill="#fff" stroke="#fff" stroke-width="0.25">1.33838</text>
<text x="1.8" y="575" font-size="10" textLength="46.9" lengthAdjust="spacingAndGlyphs" fill="#000" stroke="#000" stroke-width="0.25">8 Dec 2020</text>
<text x="65.8" y="575" font-size="10" textLength="49.5" lengthAdjust="spacingAndGlyphs" fill="#000" stroke="#000" stroke-width="0.25">9 Dec 09:00</text>
<text x="129.8" y="575" font-size="10" textLength="54.6" lengthAdjust="spacingAndGlyphs" fill="#000" stroke="#000" stroke-width="0.25">10 Dec 01:00</text>
<text x="193.8" y="575" font-size="10" textLength="54.6" lengthAdjust="spacingAndGlyphs" fill="#000" stroke="#000" stroke-width="0.25">10 Dec 17:00</text>
<text x="257.8" y="575" font-size="10" textLength="53.9" lengthAdjust="spacingAndGlyphs" fill="#000" stroke="#000" stroke-width="0.25">11 Dec 09:00</text>
<text x="321.8" y="575" font-size="10" textLength="54.6" lengthAdjust="spacingAndGlyphs" fill="#000" stroke="#000" stroke-width="0.25">14 Dec 02:00</text>
<text x="385.8" y="575" font-size="10" textLength="54.6" lengthAdjust="spacingAndGlyphs" fill="#000" stroke="#000" stroke-width="0.25">14 Dec 18:00</text>
<text x="449.8" y="575" font-size="10" textLength="54.6" lengthAdjust="spacingAndGlyphs" fill="#000" stroke="#000" stroke-width="0.25">15 Dec 10:00</text>
<text x="513.8" y="575" font-size="10" textLength="54.6" lengthAdjust="spacingAndGlyphs" fill="#000" stroke="#000" stroke-width="0.25">16 Dec 02:00</text>
<text x="577.8" y="575" font-size="10" textLength="54.6" lengthAdjust="spacingAndGlyphs" fill="#000" stroke="#000" stroke-width="0.25">16 Dec 18:00</text>
<text x="641.8" y="575" font-size="10" textLength="54.6" lengthAdjust="spacingAndGlyphs" fill="#000" stroke="#000" stroke-width="0.25">17 Dec 10:00</text>
<text x="705.8" y="575" font-size="10" textLength="54.6" lengthAdjust="spacingAndGlyphs" fill="#000" stroke="#000" stroke-width="0.25">18 Dec 02:00</text>
<text x="769.8" y="575" font-size="10" textLength="54.6" lengthAdjust="spacingAndGlyphs" fill="#000" stroke="#000" stroke-width="0.25">18 Dec 18:00</text>
<text x="833.8" y="575" font-size="10" textLength="53.9" lengthAdjust="spacingAndGlyphs" fill="#000" stroke="#000" stroke-width="0.25">21 Dec 11:00</text>
<text x="897.8" y="575" font-size="10" textLength="54.6" lengthAdjust="spacingAndGlyphs" fill="#000" stroke="#000" stroke-width="0.25">22 Dec 03:00</text>
<text x="961.8" y="575" font-size="10" textLength="54.6" lengthAdjust="spacingAndGlyphs" fill="#000" stroke="#000" stroke-width="0.25">22 Dec 19:00</text>
<text x="6.9" y="14" font-size="10" textLength="54.0" lengthAdjust="spacingAndGlyphs" fill="#000" stroke="#000" stroke-width="0.25">GBPUSD,H1</text>
<text x="67.0" y="14" font-size="10" textLength="140.6" lengthAdjust="spacingAndGlyphs" fill="#000" stroke="#000" stroke-width="0.25">1.33607 1.33870 1.33606 1.33838</text>
<text x="7.2" y="390" font-size="10" textLength="66.2" lengthAdjust="spacingAndGlyphs" fill="#000" stroke="#000" stroke-width="0.25">MACD(12,26,9)</text>
<text x="76.2" y="390" font-size="10" textLength="40.6" lengthAdjust="spacingAndGlyphs" fill="#000" stroke="#000" stroke-width="0.25">-0.001003</text>
<text x="119.5" y="390" font-size="10" textLength="40.9" lengthAdjust="spacingAndGlyphs" fill="#000" stroke="#000" stroke-width="0.25">-0.001071</text>
<text x="167.2" y="390" font-size="10" textLength="36.6" lengthAdjust="spacingAndGlyphs" fill="#000" stroke="#000" stroke-width="0.25">-&gt;MA(1)</text>
<text x="206.5" y="390" font-size="10" textLength="40.6" lengthAdjust="spacingAndGlyphs" fill="#000" stroke="#000" stroke-width="0.25">-0.001003</text>
</svg>
</body></html>
